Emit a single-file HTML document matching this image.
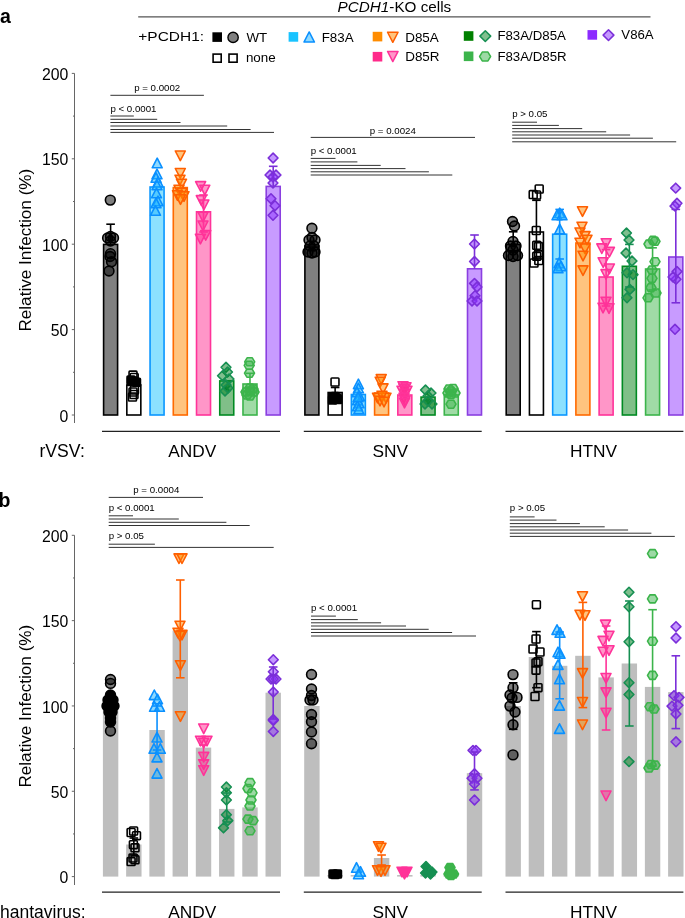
<!DOCTYPE html><html><head><meta charset="utf-8"><style>html,body{margin:0;padding:0;background:#fff;width:685px;height:918px;overflow:hidden}svg{display:block;font-family:"Liberation Sans", sans-serif;will-change:transform}</style></head><body><svg width="685" height="918" viewBox="0 0 685 918" font-family='"Liberation Sans", sans-serif'>
<rect width="685" height="918" fill="#fff"/>
<text x="0.1" y="22.8" font-size="19.5" text-anchor="start" font-weight="bold" font-style="normal" fill="#000" >a</text>
<text x="-1.5" y="506.5" font-size="19.5" text-anchor="start" font-weight="bold" font-style="normal" fill="#000" >b</text>
<text x="337.6" y="11.7" font-size="15.25"><tspan font-style="italic">PCDH1</tspan>-KO cells</text>
<line x1="138.2" y1="16.9" x2="650.5" y2="16.9" stroke="#555" stroke-width="1.4"/>
<text x="0" y="0" font-size="13.4" transform="translate(138.3,41.4) scale(1.155,1)">+PCDH1:</text>
<rect x="212.40" y="32.30" width="9.6" height="9.6" fill="#000"/>
<circle cx="233.10" cy="37.40" r="5.15" fill="#808080" stroke="#000" stroke-width="1.4"/>
<text x="246.55" y="41.7" font-size="13.3" text-anchor="start" font-weight="normal" font-style="normal" fill="#000" >WT</text>
<rect x="213.10" y="54.10" width="8.1" height="8.1" fill="#fff" stroke="#000" stroke-width="1.6"/>
<rect x="229.00" y="54.10" width="8.1" height="8.1" fill="#fff" stroke="#000" stroke-width="1.6"/>
<text x="245.9" y="62.3" font-size="13.4" text-anchor="start" font-weight="normal" font-style="normal" fill="#000" >none</text>
<rect x="288.60" y="32.10" width="9.6" height="9.6" fill="#19c3ff"/>
<polygon points="309.20,31.96 314.45,42.04 303.95,42.04" fill="rgba(30,180,255,0.5)" stroke="#0a90ff" stroke-width="1.5" stroke-linejoin="round"/>
<text x="321.7" y="41.7" font-size="13.35" text-anchor="start" font-weight="normal" font-style="normal" fill="#000" >F83A</text>
<rect x="372.70" y="31.80" width="9.6" height="9.6" fill="#ff8c00"/>
<polygon points="387.55,32.26 398.05,32.26 392.80,42.34" fill="rgba(255,140,0,0.5)" stroke="#ff5f00" stroke-width="1.5" stroke-linejoin="round"/>
<text x="405.2" y="41.7" font-size="13.45" text-anchor="start" font-weight="normal" font-style="normal" fill="#000" >D85A</text>
<rect x="372.70" y="51.90" width="9.6" height="9.6" fill="#ff2a8a"/>
<polygon points="387.55,51.46 398.05,51.46 392.80,61.54" fill="rgba(255,45,145,0.5)" stroke="#ff3399" stroke-width="1.5" stroke-linejoin="round"/>
<text x="405.2" y="61.0" font-size="13.45" text-anchor="start" font-weight="normal" font-style="normal" fill="#000" >D85R</text>
<rect x="463.80" y="31.20" width="9.6" height="9.6" fill="#008000"/>
<polygon points="485.30,30.71 490.69,36.10 485.30,41.49 479.91,36.10" fill="rgba(0,128,30,0.5)" stroke="#168f52" stroke-width="1.5" stroke-linejoin="round"/>
<text x="497.4" y="40.4" font-size="13.25" text-anchor="start" font-weight="normal" font-style="normal" fill="#000" >F83A/D85A</text>
<rect x="463.80" y="51.50" width="9.6" height="9.6" fill="#3cb44b"/>
<polygon points="479.60,56.50 482.24,52.10 487.96,52.10 490.60,56.50 487.96,60.90 482.24,60.90" fill="rgba(60,180,75,0.5)" stroke="#3cb44b" stroke-width="1.5" stroke-linejoin="round"/>
<text x="497.4" y="60.5" font-size="13.25" text-anchor="start" font-weight="normal" font-style="normal" fill="#000" >F83A/D85R</text>
<rect x="587.50" y="30.10" width="9.6" height="9.6" fill="#8c2bff"/>
<polygon points="608.50,29.71 613.89,35.10 608.50,40.49 603.11,35.10" fill="rgba(140,50,255,0.5)" stroke="#7b2fd9" stroke-width="1.5" stroke-linejoin="round"/>
<text x="621.35" y="39.0" font-size="13.2" text-anchor="start" font-weight="normal" font-style="normal" fill="#000" >V86A</text>
<line x1="74.5" y1="73.4" x2="74.5" y2="423" stroke="#666" stroke-width="1"/>
<line x1="71.8" y1="415.0" x2="74.5" y2="415.0" stroke="#666" stroke-width="1"/>
<text x="68.4" y="421.60" font-size="15.8" text-anchor="end" font-weight="normal" font-style="normal" fill="#000" >0</text>
<line x1="73" y1="372.3" x2="74.5" y2="372.3" stroke="#666" stroke-width="1"/>
<line x1="71.8" y1="329.6" x2="74.5" y2="329.6" stroke="#666" stroke-width="1"/>
<text x="68.4" y="336.20" font-size="15.8" text-anchor="end" font-weight="normal" font-style="normal" fill="#000" >50</text>
<line x1="73" y1="286.9" x2="74.5" y2="286.9" stroke="#666" stroke-width="1"/>
<line x1="71.8" y1="244.2" x2="74.5" y2="244.2" stroke="#666" stroke-width="1"/>
<text x="68.4" y="250.80" font-size="15.8" text-anchor="end" font-weight="normal" font-style="normal" fill="#000" >100</text>
<line x1="73" y1="201.49999999999997" x2="74.5" y2="201.49999999999997" stroke="#666" stroke-width="1"/>
<line x1="71.8" y1="158.79999999999995" x2="74.5" y2="158.79999999999995" stroke="#666" stroke-width="1"/>
<text x="68.4" y="165.40" font-size="15.8" text-anchor="end" font-weight="normal" font-style="normal" fill="#000" >150</text>
<line x1="73" y1="116.09999999999997" x2="74.5" y2="116.09999999999997" stroke="#666" stroke-width="1"/>
<line x1="71.8" y1="73.39999999999998" x2="74.5" y2="73.39999999999998" stroke="#666" stroke-width="1"/>
<text x="68.4" y="80.00" font-size="15.8" text-anchor="end" font-weight="normal" font-style="normal" fill="#000" >200</text>
<line x1="74.5" y1="535.3" x2="74.5" y2="885" stroke="#666" stroke-width="1"/>
<line x1="71.8" y1="876.6" x2="74.5" y2="876.6" stroke="#666" stroke-width="1"/>
<text x="68.4" y="883.20" font-size="15.8" text-anchor="end" font-weight="normal" font-style="normal" fill="#000" >0</text>
<line x1="73" y1="833.9375" x2="74.5" y2="833.9375" stroke="#666" stroke-width="1"/>
<line x1="71.8" y1="791.275" x2="74.5" y2="791.275" stroke="#666" stroke-width="1"/>
<text x="68.4" y="797.88" font-size="15.8" text-anchor="end" font-weight="normal" font-style="normal" fill="#000" >50</text>
<line x1="73" y1="748.6125" x2="74.5" y2="748.6125" stroke="#666" stroke-width="1"/>
<line x1="71.8" y1="705.95" x2="74.5" y2="705.95" stroke="#666" stroke-width="1"/>
<text x="68.4" y="712.55" font-size="15.8" text-anchor="end" font-weight="normal" font-style="normal" fill="#000" >100</text>
<line x1="73" y1="663.2874999999999" x2="74.5" y2="663.2874999999999" stroke="#666" stroke-width="1"/>
<line x1="71.8" y1="620.625" x2="74.5" y2="620.625" stroke="#666" stroke-width="1"/>
<text x="68.4" y="627.23" font-size="15.8" text-anchor="end" font-weight="normal" font-style="normal" fill="#000" >150</text>
<line x1="73" y1="577.9625" x2="74.5" y2="577.9625" stroke="#666" stroke-width="1"/>
<line x1="71.8" y1="535.3" x2="74.5" y2="535.3" stroke="#666" stroke-width="1"/>
<text x="68.4" y="541.90" font-size="15.8" text-anchor="end" font-weight="normal" font-style="normal" fill="#000" >200</text>
<text x="0" y="0" font-size="17.15" text-anchor="start" font-weight="normal" font-style="normal" fill="#000" transform="translate(30.5,331.6) rotate(-90)">Relative Infection (%)</text>
<text x="0" y="0" font-size="17.15" text-anchor="start" font-weight="normal" font-style="normal" fill="#000" transform="translate(30.5,787.6) rotate(-90)">Relative Infection (%)</text>
<text x="157.2" y="90.5" font-size="9.7" text-anchor="middle" font-weight="normal" font-style="normal" fill="#000" >p = 0.0002</text>
<line x1="110.4" y1="95.3" x2="203.9" y2="95.3" stroke="#333" stroke-width="1"/>
<text x="110.4" y="111.5" font-size="9.7" text-anchor="start" font-weight="normal" font-style="normal" fill="#000" >p &lt; 0.0001</text>
<line x1="110.4" y1="116" x2="133.8" y2="116" stroke="#333" stroke-width="1"/>
<line x1="110.4" y1="119.3" x2="157.2" y2="119.3" stroke="#333" stroke-width="1"/>
<line x1="110.4" y1="122.5" x2="180.5" y2="122.5" stroke="#333" stroke-width="1"/>
<line x1="110.4" y1="126" x2="227.2" y2="126" stroke="#333" stroke-width="1"/>
<line x1="110.4" y1="129.5" x2="250.6" y2="129.5" stroke="#333" stroke-width="1"/>
<line x1="110.4" y1="132.4" x2="274" y2="132.4" stroke="#333" stroke-width="1"/>
<text x="392.8" y="133.6" font-size="9.7" text-anchor="middle" font-weight="normal" font-style="normal" fill="#000" >p = 0.0024</text>
<line x1="310.7" y1="137.4" x2="475" y2="137.4" stroke="#333" stroke-width="1"/>
<text x="310.7" y="153.6" font-size="9.7" text-anchor="start" font-weight="normal" font-style="normal" fill="#000" >p &lt; 0.0001</text>
<line x1="310.7" y1="158.4" x2="335.5" y2="158.4" stroke="#333" stroke-width="1"/>
<line x1="310.7" y1="161.9" x2="357.4" y2="161.9" stroke="#333" stroke-width="1"/>
<line x1="310.7" y1="165.4" x2="380.7" y2="165.4" stroke="#333" stroke-width="1"/>
<line x1="310.7" y1="168.6" x2="405.5" y2="168.6" stroke="#333" stroke-width="1"/>
<line x1="310.7" y1="171.8" x2="428.9" y2="171.8" stroke="#333" stroke-width="1"/>
<line x1="310.7" y1="175" x2="452.3" y2="175" stroke="#333" stroke-width="1"/>
<text x="512.2" y="116.5" font-size="9.7" text-anchor="start" font-weight="normal" font-style="normal" fill="#000" >p &gt; 0.05</text>
<line x1="512.2" y1="122.2" x2="537" y2="122.2" stroke="#333" stroke-width="1"/>
<line x1="512.2" y1="125.4" x2="558.9" y2="125.4" stroke="#333" stroke-width="1"/>
<line x1="512.2" y1="128.6" x2="582.2" y2="128.6" stroke="#333" stroke-width="1"/>
<line x1="512.2" y1="131.8" x2="606.2" y2="131.8" stroke="#333" stroke-width="1"/>
<line x1="512.2" y1="135" x2="630.1" y2="135" stroke="#333" stroke-width="1"/>
<line x1="512.2" y1="138.2" x2="652.9" y2="138.2" stroke="#333" stroke-width="1"/>
<line x1="512.2" y1="141.8" x2="676.2" y2="141.8" stroke="#333" stroke-width="1"/>
<text x="156.3" y="493.0" font-size="9.7" text-anchor="middle" font-weight="normal" font-style="normal" fill="#000" >p = 0.0004</text>
<line x1="108.7" y1="497.4" x2="203" y2="497.4" stroke="#333" stroke-width="1"/>
<text x="108.7" y="511.0" font-size="9.7" text-anchor="start" font-weight="normal" font-style="normal" fill="#000" >p &lt; 0.0001</text>
<line x1="108.7" y1="515.8" x2="133" y2="515.8" stroke="#333" stroke-width="1"/>
<line x1="108.7" y1="519" x2="178.8" y2="519" stroke="#333" stroke-width="1"/>
<line x1="108.7" y1="522.3" x2="226.4" y2="522.3" stroke="#333" stroke-width="1"/>
<line x1="108.7" y1="525.5" x2="249.7" y2="525.5" stroke="#333" stroke-width="1"/>
<text x="108.7" y="539.1" font-size="9.7" text-anchor="start" font-weight="normal" font-style="normal" fill="#000" >p &gt; 0.05</text>
<line x1="108.7" y1="544.2" x2="154.9" y2="544.2" stroke="#333" stroke-width="1"/>
<line x1="108.7" y1="547.4" x2="273.7" y2="547.4" stroke="#333" stroke-width="1"/>
<text x="311" y="611.0" font-size="9.7" text-anchor="start" font-weight="normal" font-style="normal" fill="#000" >p &lt; 0.0001</text>
<line x1="311" y1="616.1" x2="335.9" y2="616.1" stroke="#333" stroke-width="1"/>
<line x1="311" y1="619.6" x2="357.8" y2="619.6" stroke="#333" stroke-width="1"/>
<line x1="311" y1="622.8" x2="381.1" y2="622.8" stroke="#333" stroke-width="1"/>
<line x1="311" y1="626" x2="406" y2="626" stroke="#333" stroke-width="1"/>
<line x1="311" y1="629.3" x2="428.7" y2="629.3" stroke="#333" stroke-width="1"/>
<line x1="311" y1="632.5" x2="452.1" y2="632.5" stroke="#333" stroke-width="1"/>
<line x1="311" y1="636" x2="476" y2="636" stroke="#333" stroke-width="1"/>
<text x="509.8" y="510.6" font-size="9.7" text-anchor="start" font-weight="normal" font-style="normal" fill="#000" >p &gt; 0.05</text>
<line x1="509.8" y1="516.9" x2="534.6" y2="516.9" stroke="#333" stroke-width="1"/>
<line x1="509.8" y1="520.1" x2="556.5" y2="520.1" stroke="#333" stroke-width="1"/>
<line x1="509.8" y1="523.6" x2="579.9" y2="523.6" stroke="#333" stroke-width="1"/>
<line x1="509.8" y1="526.8" x2="604.7" y2="526.8" stroke="#333" stroke-width="1"/>
<line x1="509.8" y1="530" x2="628.1" y2="530" stroke="#333" stroke-width="1"/>
<line x1="509.8" y1="533.2" x2="651.4" y2="533.2" stroke="#333" stroke-width="1"/>
<line x1="509.8" y1="536.4" x2="674.8" y2="536.4" stroke="#333" stroke-width="1"/>
<rect x="103.60" y="244.40" width="14.0" height="170.60" fill="#808080" stroke="#000000" stroke-width="1.6"/>
<circle cx="110.30" cy="200.10" r="4.90" fill="rgba(0,0,0,0.5)" stroke="#000000" stroke-width="1.6"/>
<circle cx="107.60" cy="238.00" r="4.90" fill="rgba(0,0,0,0.5)" stroke="#000000" stroke-width="1.6"/>
<circle cx="113.50" cy="238.00" r="4.90" fill="rgba(0,0,0,0.5)" stroke="#000000" stroke-width="1.6"/>
<circle cx="110.50" cy="236.50" r="4.90" fill="rgba(0,0,0,0.5)" stroke="#000000" stroke-width="1.6"/>
<circle cx="110.50" cy="241.00" r="4.90" fill="rgba(0,0,0,0.5)" stroke="#000000" stroke-width="1.6"/>
<circle cx="110.50" cy="253.70" r="4.90" fill="rgba(0,0,0,0.5)" stroke="#000000" stroke-width="1.6"/>
<circle cx="110.00" cy="256.50" r="4.90" fill="rgba(0,0,0,0.5)" stroke="#000000" stroke-width="1.6"/>
<circle cx="111.50" cy="261.80" r="4.90" fill="rgba(0,0,0,0.5)" stroke="#000000" stroke-width="1.6"/>
<circle cx="109.00" cy="271.00" r="4.90" fill="rgba(0,0,0,0.5)" stroke="#000000" stroke-width="1.6"/>
<line x1="110.6" y1="224.2" x2="110.6" y2="244.4" stroke="#000000" stroke-width="1.6"/>
<line x1="106.3" y1="224.2" x2="114.89999999999999" y2="224.2" stroke="#000000" stroke-width="1.6"/>
<rect x="126.83" y="385.00" width="14.0" height="30.00" fill="#ffffff" stroke="#000000" stroke-width="1.6"/>
<rect x="129.05" y="371.15" width="7.90" height="7.90" rx="0.8" fill="none" stroke="#000000" stroke-width="1.6"/>
<rect x="130.25" y="373.45" width="7.90" height="7.90" rx="0.8" fill="none" stroke="#000000" stroke-width="1.6"/>
<rect x="127.05" y="376.05" width="7.90" height="7.90" rx="0.8" fill="#000" stroke="#000000" stroke-width="1.6"/>
<rect x="132.55" y="378.25" width="7.90" height="7.90" rx="0.8" fill="#000" stroke="#000000" stroke-width="1.6"/>
<rect x="129.55" y="377.05" width="7.90" height="7.90" rx="0.8" fill="#000" stroke="#000000" stroke-width="1.6"/>
<rect x="127.55" y="377.55" width="7.90" height="7.90" rx="0.8" fill="#000" stroke="#000000" stroke-width="1.6"/>
<rect x="130.55" y="386.05" width="7.90" height="7.90" rx="0.8" fill="none" stroke="#000000" stroke-width="1.6"/>
<rect x="129.05" y="388.05" width="7.90" height="7.90" rx="0.8" fill="none" stroke="#000000" stroke-width="1.6"/>
<rect x="130.05" y="390.55" width="7.90" height="7.90" rx="0.8" fill="none" stroke="#000000" stroke-width="1.6"/>
<rect x="128.55" y="393.05" width="7.90" height="7.90" rx="0.8" fill="none" stroke="#000000" stroke-width="1.6"/>
<rect x="150.06" y="187.00" width="14.0" height="228.00" fill="#8ce1ff" stroke="#0a96ff" stroke-width="1.6"/>
<polygon points="157.20,158.20 162.20,167.80 152.20,167.80" fill="rgba(30,180,255,0.5)" stroke="#0a90ff" stroke-width="1.6" stroke-linejoin="round"/>
<polygon points="157.00,169.20 162.00,178.80 152.00,178.80" fill="rgba(30,180,255,0.5)" stroke="#0a90ff" stroke-width="1.6" stroke-linejoin="round"/>
<polygon points="156.00,172.70 161.00,182.30 151.00,182.30" fill="rgba(30,180,255,0.5)" stroke="#0a90ff" stroke-width="1.6" stroke-linejoin="round"/>
<polygon points="158.00,177.20 163.00,186.80 153.00,186.80" fill="rgba(30,180,255,0.5)" stroke="#0a90ff" stroke-width="1.6" stroke-linejoin="round"/>
<polygon points="157.00,180.20 162.00,189.80 152.00,189.80" fill="rgba(30,180,255,0.5)" stroke="#0a90ff" stroke-width="1.6" stroke-linejoin="round"/>
<polygon points="156.50,188.20 161.50,197.80 151.50,197.80" fill="rgba(30,180,255,0.5)" stroke="#0a90ff" stroke-width="1.6" stroke-linejoin="round"/>
<polygon points="158.00,196.20 163.00,205.80 153.00,205.80" fill="rgba(30,180,255,0.5)" stroke="#0a90ff" stroke-width="1.6" stroke-linejoin="round"/>
<polygon points="156.00,198.20 161.00,207.80 151.00,207.80" fill="rgba(30,180,255,0.5)" stroke="#0a90ff" stroke-width="1.6" stroke-linejoin="round"/>
<polygon points="155.50,205.70 160.50,215.30 150.50,215.30" fill="rgba(30,180,255,0.5)" stroke="#0a90ff" stroke-width="1.6" stroke-linejoin="round"/>
<rect x="173.29" y="187.60" width="14.0" height="227.40" fill="#ffc47f" stroke="#ff6a00" stroke-width="1.6"/>
<polygon points="175.30,151.00 185.30,151.00 180.30,160.60" fill="rgba(255,140,0,0.5)" stroke="#ff5f00" stroke-width="1.6" stroke-linejoin="round"/>
<polygon points="175.30,168.50 185.30,168.50 180.30,178.10" fill="rgba(255,140,0,0.5)" stroke="#ff5f00" stroke-width="1.6" stroke-linejoin="round"/>
<polygon points="175.00,175.20 185.00,175.20 180.00,184.80" fill="rgba(255,140,0,0.5)" stroke="#ff5f00" stroke-width="1.6" stroke-linejoin="round"/>
<polygon points="176.50,179.20 186.50,179.20 181.50,188.80" fill="rgba(255,140,0,0.5)" stroke="#ff5f00" stroke-width="1.6" stroke-linejoin="round"/>
<polygon points="174.00,185.20 184.00,185.20 179.00,194.80" fill="rgba(255,140,0,0.5)" stroke="#ff5f00" stroke-width="1.6" stroke-linejoin="round"/>
<polygon points="177.00,188.20 187.00,188.20 182.00,197.80" fill="rgba(255,140,0,0.5)" stroke="#ff5f00" stroke-width="1.6" stroke-linejoin="round"/>
<polygon points="172.50,190.70 182.50,190.70 177.50,200.30" fill="rgba(255,140,0,0.5)" stroke="#ff5f00" stroke-width="1.6" stroke-linejoin="round"/>
<polygon points="179.00,191.70 189.00,191.70 184.00,201.30" fill="rgba(255,140,0,0.5)" stroke="#ff5f00" stroke-width="1.6" stroke-linejoin="round"/>
<polygon points="175.50,194.70 185.50,194.70 180.50,204.30" fill="rgba(255,140,0,0.5)" stroke="#ff5f00" stroke-width="1.6" stroke-linejoin="round"/>
<rect x="196.52" y="211.80" width="14.0" height="203.20" fill="#ff96c8" stroke="#ff3399" stroke-width="1.6"/>
<polygon points="195.60,181.60 205.60,181.60 200.60,191.20" fill="rgba(255,45,145,0.5)" stroke="#ff3399" stroke-width="1.6" stroke-linejoin="round"/>
<polygon points="199.80,185.20 209.80,185.20 204.80,194.80" fill="rgba(255,45,145,0.5)" stroke="#ff3399" stroke-width="1.6" stroke-linejoin="round"/>
<polygon points="196.30,195.60 206.30,195.60 201.30,205.20" fill="rgba(255,45,145,0.5)" stroke="#ff3399" stroke-width="1.6" stroke-linejoin="round"/>
<polygon points="198.90,200.00 208.90,200.00 203.90,209.60" fill="rgba(255,45,145,0.5)" stroke="#ff3399" stroke-width="1.6" stroke-linejoin="round"/>
<polygon points="198.00,212.20 208.00,212.20 203.00,221.80" fill="rgba(255,45,145,0.5)" stroke="#ff3399" stroke-width="1.6" stroke-linejoin="round"/>
<polygon points="198.00,221.00 208.00,221.00 203.00,230.60" fill="rgba(255,45,145,0.5)" stroke="#ff3399" stroke-width="1.6" stroke-linejoin="round"/>
<polygon points="200.70,230.60 210.70,230.60 205.70,240.20" fill="rgba(255,45,145,0.5)" stroke="#ff3399" stroke-width="1.6" stroke-linejoin="round"/>
<polygon points="195.40,234.20 205.40,234.20 200.40,243.80" fill="rgba(255,45,145,0.5)" stroke="#ff3399" stroke-width="1.6" stroke-linejoin="round"/>
<line x1="203.51999999999998" y1="195" x2="203.51999999999998" y2="232" stroke="#ff3399" stroke-width="1.6"/>
<line x1="199.21999999999997" y1="195" x2="207.82" y2="195" stroke="#ff3399" stroke-width="1.6"/>
<line x1="199.21999999999997" y1="232" x2="207.82" y2="232" stroke="#ff3399" stroke-width="1.6"/>
<rect x="219.75" y="380.90" width="14.0" height="34.10" fill="#80bf88" stroke="#008a22" stroke-width="1.6"/>
<polygon points="226.00,362.40 230.90,367.30 226.00,372.20 221.10,367.30" fill="rgba(0,128,30,0.5)" stroke="#168f52" stroke-width="1.6" stroke-linejoin="round"/>
<polygon points="227.50,367.10 232.40,372.00 227.50,376.90 222.60,372.00" fill="rgba(0,128,30,0.5)" stroke="#168f52" stroke-width="1.6" stroke-linejoin="round"/>
<polygon points="222.50,370.80 227.40,375.70 222.50,380.60 217.60,375.70" fill="rgba(0,128,30,0.5)" stroke="#168f52" stroke-width="1.6" stroke-linejoin="round"/>
<polygon points="229.00,374.10 233.90,379.00 229.00,383.90 224.10,379.00" fill="rgba(0,128,30,0.5)" stroke="#168f52" stroke-width="1.6" stroke-linejoin="round"/>
<polygon points="226.00,380.10 230.90,385.00 226.00,389.90 221.10,385.00" fill="rgba(0,128,30,0.5)" stroke="#168f52" stroke-width="1.6" stroke-linejoin="round"/>
<polygon points="225.00,386.10 229.90,391.00 225.00,395.90 220.10,391.00" fill="rgba(0,128,30,0.5)" stroke="#168f52" stroke-width="1.6" stroke-linejoin="round"/>
<polygon points="228.00,383.10 232.90,388.00 228.00,392.90 223.10,388.00" fill="rgba(0,128,30,0.5)" stroke="#168f52" stroke-width="1.6" stroke-linejoin="round"/>
<rect x="242.98" y="384.00" width="14.0" height="31.00" fill="#a0dba6" stroke="#3cb44b" stroke-width="1.6"/>
<polygon points="244.70,361.80 247.10,357.80 252.30,357.80 254.70,361.80 252.30,365.80 247.10,365.80" fill="rgba(60,180,75,0.5)" stroke="#3cb44b" stroke-width="1.6" stroke-linejoin="round"/>
<polygon points="244.20,365.30 246.60,361.30 251.80,361.30 254.20,365.30 251.80,369.30 246.60,369.30" fill="rgba(60,180,75,0.5)" stroke="#3cb44b" stroke-width="1.6" stroke-linejoin="round"/>
<polygon points="244.50,373.20 246.90,369.20 252.10,369.20 254.50,373.20 252.10,377.20 246.90,377.20" fill="rgba(60,180,75,0.5)" stroke="#3cb44b" stroke-width="1.6" stroke-linejoin="round"/>
<polygon points="241.00,392.00 243.40,388.00 248.60,388.00 251.00,392.00 248.60,396.00 243.40,396.00" fill="rgba(60,180,75,0.5)" stroke="#3cb44b" stroke-width="1.6" stroke-linejoin="round"/>
<polygon points="249.00,392.00 251.40,388.00 256.60,388.00 259.00,392.00 256.60,396.00 251.40,396.00" fill="rgba(60,180,75,0.5)" stroke="#3cb44b" stroke-width="1.6" stroke-linejoin="round"/>
<polygon points="245.00,388.00 247.40,384.00 252.60,384.00 255.00,388.00 252.60,392.00 247.40,392.00" fill="rgba(60,180,75,0.5)" stroke="#3cb44b" stroke-width="1.6" stroke-linejoin="round"/>
<polygon points="245.00,396.00 247.40,392.00 252.60,392.00 255.00,396.00 252.60,400.00 247.40,400.00" fill="rgba(60,180,75,0.5)" stroke="#3cb44b" stroke-width="1.6" stroke-linejoin="round"/>
<polygon points="242.00,395.00 244.40,391.00 249.60,391.00 252.00,395.00 249.60,399.00 244.40,399.00" fill="rgba(60,180,75,0.5)" stroke="#3cb44b" stroke-width="1.6" stroke-linejoin="round"/>
<polygon points="248.00,389.00 250.40,385.00 255.60,385.00 258.00,389.00 255.60,393.00 250.40,393.00" fill="rgba(60,180,75,0.5)" stroke="#3cb44b" stroke-width="1.6" stroke-linejoin="round"/>
<polygon points="245.00,391.00 247.40,387.00 252.60,387.00 255.00,391.00 252.60,395.00 247.40,395.00" fill="rgba(60,180,75,0.5)" stroke="#3cb44b" stroke-width="1.6" stroke-linejoin="round"/>
<line x1="249.98" y1="373.3" x2="249.98" y2="384.0" stroke="#3cb44b" stroke-width="1.6"/>
<line x1="245.67999999999998" y1="373.3" x2="254.28" y2="373.3" stroke="#3cb44b" stroke-width="1.6"/>
<rect x="266.21" y="186.40" width="14.0" height="228.60" fill="#c89bff" stroke="#8a3fe0" stroke-width="1.6"/>
<polygon points="273.10,153.10 278.00,158.00 273.10,162.90 268.20,158.00" fill="rgba(140,50,255,0.5)" stroke="#7b2fd9" stroke-width="1.6" stroke-linejoin="round"/>
<polygon points="270.00,170.10 274.90,175.00 270.00,179.90 265.10,175.00" fill="rgba(140,50,255,0.5)" stroke="#7b2fd9" stroke-width="1.6" stroke-linejoin="round"/>
<polygon points="276.00,170.10 280.90,175.00 276.00,179.90 271.10,175.00" fill="rgba(140,50,255,0.5)" stroke="#7b2fd9" stroke-width="1.6" stroke-linejoin="round"/>
<polygon points="273.00,172.10 277.90,177.00 273.00,181.90 268.10,177.00" fill="rgba(140,50,255,0.5)" stroke="#7b2fd9" stroke-width="1.6" stroke-linejoin="round"/>
<polygon points="273.00,178.10 277.90,183.00 273.00,187.90 268.10,183.00" fill="rgba(140,50,255,0.5)" stroke="#7b2fd9" stroke-width="1.6" stroke-linejoin="round"/>
<polygon points="271.00,193.80 275.90,198.70 271.00,203.60 266.10,198.70" fill="rgba(140,50,255,0.5)" stroke="#7b2fd9" stroke-width="1.6" stroke-linejoin="round"/>
<polygon points="275.00,200.80 279.90,205.70 275.00,210.60 270.10,205.70" fill="rgba(140,50,255,0.5)" stroke="#7b2fd9" stroke-width="1.6" stroke-linejoin="round"/>
<polygon points="273.00,210.40 277.90,215.30 273.00,220.20 268.10,215.30" fill="rgba(140,50,255,0.5)" stroke="#7b2fd9" stroke-width="1.6" stroke-linejoin="round"/>
<line x1="273.21000000000004" y1="166.3" x2="273.21000000000004" y2="186.4" stroke="#7b2fd9" stroke-width="1.6"/>
<line x1="268.91" y1="166.3" x2="277.51000000000005" y2="166.3" stroke="#7b2fd9" stroke-width="1.6"/>
<rect x="304.90" y="246.00" width="14.0" height="169.00" fill="#808080" stroke="#000000" stroke-width="1.6"/>
<circle cx="311.90" cy="228.30" r="4.90" fill="rgba(0,0,0,0.5)" stroke="#000000" stroke-width="1.6"/>
<circle cx="309.00" cy="240.00" r="4.90" fill="rgba(0,0,0,0.5)" stroke="#000000" stroke-width="1.6"/>
<circle cx="315.00" cy="240.00" r="4.90" fill="rgba(0,0,0,0.5)" stroke="#000000" stroke-width="1.6"/>
<circle cx="312.00" cy="237.50" r="4.90" fill="rgba(0,0,0,0.5)" stroke="#000000" stroke-width="1.6"/>
<circle cx="310.00" cy="246.00" r="4.90" fill="rgba(0,0,0,0.5)" stroke="#000000" stroke-width="1.6"/>
<circle cx="314.00" cy="246.00" r="4.90" fill="rgba(0,0,0,0.5)" stroke="#000000" stroke-width="1.6"/>
<circle cx="308.00" cy="252.00" r="4.90" fill="rgba(0,0,0,0.5)" stroke="#000000" stroke-width="1.6"/>
<circle cx="315.00" cy="252.00" r="4.90" fill="rgba(0,0,0,0.5)" stroke="#000000" stroke-width="1.6"/>
<circle cx="312.00" cy="253.00" r="4.90" fill="rgba(0,0,0,0.5)" stroke="#000000" stroke-width="1.6"/>
<rect x="328.13" y="392.50" width="14.0" height="22.50" fill="#ffffff" stroke="#000000" stroke-width="1.6"/>
<rect x="331.05" y="378.05" width="7.90" height="7.90" rx="0.8" fill="none" stroke="#000000" stroke-width="1.6"/>
<rect x="329.05" y="393.05" width="7.90" height="7.90" rx="0.8" fill="#000" stroke="#000000" stroke-width="1.6"/>
<rect x="333.05" y="394.05" width="7.90" height="7.90" rx="0.8" fill="#000" stroke="#000000" stroke-width="1.6"/>
<rect x="331.05" y="395.05" width="7.90" height="7.90" rx="0.8" fill="#000" stroke="#000000" stroke-width="1.6"/>
<rect x="328.55" y="396.05" width="7.90" height="7.90" rx="0.8" fill="#000" stroke="#000000" stroke-width="1.6"/>
<rect x="333.55" y="395.55" width="7.90" height="7.90" rx="0.8" fill="#000" stroke="#000000" stroke-width="1.6"/>
<rect x="331.05" y="392.55" width="7.90" height="7.90" rx="0.8" fill="#000" stroke="#000000" stroke-width="1.6"/>
<line x1="335.13" y1="387.5" x2="335.13" y2="392.5" stroke="#000000" stroke-width="1.6"/>
<line x1="330.83" y1="387.5" x2="339.43" y2="387.5" stroke="#000000" stroke-width="1.6"/>
<rect x="351.36" y="394.50" width="14.0" height="20.50" fill="#8ce1ff" stroke="#0a96ff" stroke-width="1.6"/>
<polygon points="358.40,379.20 363.40,388.80 353.40,388.80" fill="rgba(30,180,255,0.5)" stroke="#0a90ff" stroke-width="1.6" stroke-linejoin="round"/>
<polygon points="358.40,383.20 363.40,392.80 353.40,392.80" fill="rgba(30,180,255,0.5)" stroke="#0a90ff" stroke-width="1.6" stroke-linejoin="round"/>
<polygon points="357.00,387.20 362.00,396.80 352.00,396.80" fill="rgba(30,180,255,0.5)" stroke="#0a90ff" stroke-width="1.6" stroke-linejoin="round"/>
<polygon points="359.50,391.20 364.50,400.80 354.50,400.80" fill="rgba(30,180,255,0.5)" stroke="#0a90ff" stroke-width="1.6" stroke-linejoin="round"/>
<polygon points="357.50,395.20 362.50,404.80 352.50,404.80" fill="rgba(30,180,255,0.5)" stroke="#0a90ff" stroke-width="1.6" stroke-linejoin="round"/>
<polygon points="359.00,398.20 364.00,407.80 354.00,407.80" fill="rgba(30,180,255,0.5)" stroke="#0a90ff" stroke-width="1.6" stroke-linejoin="round"/>
<polygon points="357.50,401.20 362.50,410.80 352.50,410.80" fill="rgba(30,180,255,0.5)" stroke="#0a90ff" stroke-width="1.6" stroke-linejoin="round"/>
<polygon points="358.80,404.20 363.80,413.80 353.80,413.80" fill="rgba(30,180,255,0.5)" stroke="#0a90ff" stroke-width="1.6" stroke-linejoin="round"/>
<polygon points="358.00,392.20 363.00,401.80 353.00,401.80" fill="rgba(30,180,255,0.5)" stroke="#0a90ff" stroke-width="1.6" stroke-linejoin="round"/>
<rect x="374.59" y="393.00" width="14.0" height="22.00" fill="#ffc47f" stroke="#ff6a00" stroke-width="1.6"/>
<polygon points="376.20,374.60 386.20,374.60 381.20,384.20" fill="rgba(255,140,0,0.5)" stroke="#ff5f00" stroke-width="1.6" stroke-linejoin="round"/>
<polygon points="375.20,377.20 385.20,377.20 380.20,386.80" fill="rgba(255,140,0,0.5)" stroke="#ff5f00" stroke-width="1.6" stroke-linejoin="round"/>
<polygon points="378.00,383.90 388.00,383.90 383.00,393.50" fill="rgba(255,140,0,0.5)" stroke="#ff5f00" stroke-width="1.6" stroke-linejoin="round"/>
<polygon points="372.50,393.20 382.50,393.20 377.50,402.80" fill="rgba(255,140,0,0.5)" stroke="#ff5f00" stroke-width="1.6" stroke-linejoin="round"/>
<polygon points="381.00,393.20 391.00,393.20 386.00,402.80" fill="rgba(255,140,0,0.5)" stroke="#ff5f00" stroke-width="1.6" stroke-linejoin="round"/>
<polygon points="377.00,391.20 387.00,391.20 382.00,400.80" fill="rgba(255,140,0,0.5)" stroke="#ff5f00" stroke-width="1.6" stroke-linejoin="round"/>
<polygon points="375.00,396.20 385.00,396.20 380.00,405.80" fill="rgba(255,140,0,0.5)" stroke="#ff5f00" stroke-width="1.6" stroke-linejoin="round"/>
<polygon points="379.00,397.20 389.00,397.20 384.00,406.80" fill="rgba(255,140,0,0.5)" stroke="#ff5f00" stroke-width="1.6" stroke-linejoin="round"/>
<rect x="397.82" y="395.00" width="14.0" height="20.00" fill="#ff96c8" stroke="#ff3399" stroke-width="1.6"/>
<polygon points="398.00,381.70 408.00,381.70 403.00,391.30" fill="rgba(255,45,145,0.5)" stroke="#ff3399" stroke-width="1.6" stroke-linejoin="round"/>
<polygon points="401.00,382.70 411.00,382.70 406.00,392.30" fill="rgba(255,45,145,0.5)" stroke="#ff3399" stroke-width="1.6" stroke-linejoin="round"/>
<polygon points="399.00,384.20 409.00,384.20 404.00,393.80" fill="rgba(255,45,145,0.5)" stroke="#ff3399" stroke-width="1.6" stroke-linejoin="round"/>
<polygon points="397.00,386.20 407.00,386.20 402.00,395.80" fill="rgba(255,45,145,0.5)" stroke="#ff3399" stroke-width="1.6" stroke-linejoin="round"/>
<polygon points="402.00,386.20 412.00,386.20 407.00,395.80" fill="rgba(255,45,145,0.5)" stroke="#ff3399" stroke-width="1.6" stroke-linejoin="round"/>
<polygon points="399.80,389.20 409.80,389.20 404.80,398.80" fill="rgba(255,45,145,0.5)" stroke="#ff3399" stroke-width="1.6" stroke-linejoin="round"/>
<polygon points="399.00,393.20 409.00,393.20 404.00,402.80" fill="rgba(255,45,145,0.5)" stroke="#ff3399" stroke-width="1.6" stroke-linejoin="round"/>
<polygon points="400.00,396.20 410.00,396.20 405.00,405.80" fill="rgba(255,45,145,0.5)" stroke="#ff3399" stroke-width="1.6" stroke-linejoin="round"/>
<polygon points="399.50,398.20 409.50,398.20 404.50,407.80" fill="rgba(255,45,145,0.5)" stroke="#ff3399" stroke-width="1.6" stroke-linejoin="round"/>
<rect x="421.05" y="397.10" width="14.0" height="17.90" fill="#80bf88" stroke="#008a22" stroke-width="1.6"/>
<polygon points="425.50,385.10 430.40,390.00 425.50,394.90 420.60,390.00" fill="rgba(0,128,30,0.5)" stroke="#168f52" stroke-width="1.6" stroke-linejoin="round"/>
<polygon points="431.00,388.10 435.90,393.00 431.00,397.90 426.10,393.00" fill="rgba(0,128,30,0.5)" stroke="#168f52" stroke-width="1.6" stroke-linejoin="round"/>
<polygon points="428.00,391.10 432.90,396.00 428.00,400.90 423.10,396.00" fill="rgba(0,128,30,0.5)" stroke="#168f52" stroke-width="1.6" stroke-linejoin="round"/>
<polygon points="425.00,399.10 429.90,404.00 425.00,408.90 420.10,404.00" fill="rgba(0,128,30,0.5)" stroke="#168f52" stroke-width="1.6" stroke-linejoin="round"/>
<polygon points="432.00,399.10 436.90,404.00 432.00,408.90 427.10,404.00" fill="rgba(0,128,30,0.5)" stroke="#168f52" stroke-width="1.6" stroke-linejoin="round"/>
<polygon points="428.00,396.10 432.90,401.00 428.00,405.90 423.10,401.00" fill="rgba(0,128,30,0.5)" stroke="#168f52" stroke-width="1.6" stroke-linejoin="round"/>
<rect x="444.28" y="395.00" width="14.0" height="20.00" fill="#a0dba6" stroke="#3cb44b" stroke-width="1.6"/>
<polygon points="444.00,389.00 446.40,385.00 451.60,385.00 454.00,389.00 451.60,393.00 446.40,393.00" fill="rgba(60,180,75,0.5)" stroke="#3cb44b" stroke-width="1.6" stroke-linejoin="round"/>
<polygon points="448.00,388.50 450.40,384.50 455.60,384.50 458.00,388.50 455.60,392.50 450.40,392.50" fill="rgba(60,180,75,0.5)" stroke="#3cb44b" stroke-width="1.6" stroke-linejoin="round"/>
<polygon points="446.00,391.00 448.40,387.00 453.60,387.00 456.00,391.00 453.60,395.00 448.40,395.00" fill="rgba(60,180,75,0.5)" stroke="#3cb44b" stroke-width="1.6" stroke-linejoin="round"/>
<polygon points="443.00,393.00 445.40,389.00 450.60,389.00 453.00,393.00 450.60,397.00 445.40,397.00" fill="rgba(60,180,75,0.5)" stroke="#3cb44b" stroke-width="1.6" stroke-linejoin="round"/>
<polygon points="450.00,393.00 452.40,389.00 457.60,389.00 460.00,393.00 457.60,397.00 452.40,397.00" fill="rgba(60,180,75,0.5)" stroke="#3cb44b" stroke-width="1.6" stroke-linejoin="round"/>
<polygon points="446.00,394.50 448.40,390.50 453.60,390.50 456.00,394.50 453.60,398.50 448.40,398.50" fill="rgba(60,180,75,0.5)" stroke="#3cb44b" stroke-width="1.6" stroke-linejoin="round"/>
<polygon points="446.00,404.20 448.40,400.20 453.60,400.20 456.00,404.20 453.60,408.20 448.40,408.20" fill="rgba(60,180,75,0.5)" stroke="#3cb44b" stroke-width="1.6" stroke-linejoin="round"/>
<rect x="467.51" y="268.80" width="14.0" height="146.20" fill="#c89bff" stroke="#8a3fe0" stroke-width="1.6"/>
<polygon points="474.50,239.10 479.40,244.00 474.50,248.90 469.60,244.00" fill="rgba(140,50,255,0.5)" stroke="#7b2fd9" stroke-width="1.6" stroke-linejoin="round"/>
<polygon points="474.50,256.60 479.40,261.50 474.50,266.40 469.60,261.50" fill="rgba(140,50,255,0.5)" stroke="#7b2fd9" stroke-width="1.6" stroke-linejoin="round"/>
<polygon points="474.50,278.50 479.40,283.40 474.50,288.30 469.60,283.40" fill="rgba(140,50,255,0.5)" stroke="#7b2fd9" stroke-width="1.6" stroke-linejoin="round"/>
<polygon points="477.00,282.10 481.90,287.00 477.00,291.90 472.10,287.00" fill="rgba(140,50,255,0.5)" stroke="#7b2fd9" stroke-width="1.6" stroke-linejoin="round"/>
<polygon points="475.00,290.80 479.90,295.70 475.00,300.60 470.10,295.70" fill="rgba(140,50,255,0.5)" stroke="#7b2fd9" stroke-width="1.6" stroke-linejoin="round"/>
<polygon points="472.00,296.10 476.90,301.00 472.00,305.90 467.10,301.00" fill="rgba(140,50,255,0.5)" stroke="#7b2fd9" stroke-width="1.6" stroke-linejoin="round"/>
<polygon points="477.00,296.10 481.90,301.00 477.00,305.90 472.10,301.00" fill="rgba(140,50,255,0.5)" stroke="#7b2fd9" stroke-width="1.6" stroke-linejoin="round"/>
<line x1="474.51" y1="235.0" x2="474.51" y2="268.8" stroke="#7b2fd9" stroke-width="1.6"/>
<line x1="470.21" y1="235.0" x2="478.81" y2="235.0" stroke="#7b2fd9" stroke-width="1.6"/>
<rect x="506.20" y="244.50" width="14.0" height="170.50" fill="#808080" stroke="#000000" stroke-width="1.6"/>
<circle cx="512.50" cy="221.50" r="4.90" fill="rgba(0,0,0,0.5)" stroke="#000000" stroke-width="1.6"/>
<circle cx="514.50" cy="226.00" r="4.90" fill="rgba(0,0,0,0.5)" stroke="#000000" stroke-width="1.6"/>
<circle cx="513.00" cy="241.50" r="4.90" fill="rgba(0,0,0,0.5)" stroke="#000000" stroke-width="1.6"/>
<circle cx="510.50" cy="246.00" r="4.90" fill="rgba(0,0,0,0.5)" stroke="#000000" stroke-width="1.6"/>
<circle cx="516.00" cy="246.00" r="4.90" fill="rgba(0,0,0,0.5)" stroke="#000000" stroke-width="1.6"/>
<circle cx="513.00" cy="250.00" r="4.90" fill="rgba(0,0,0,0.5)" stroke="#000000" stroke-width="1.6"/>
<circle cx="508.50" cy="255.50" r="4.90" fill="rgba(0,0,0,0.5)" stroke="#000000" stroke-width="1.6"/>
<circle cx="517.50" cy="255.50" r="4.90" fill="rgba(0,0,0,0.5)" stroke="#000000" stroke-width="1.6"/>
<circle cx="513.00" cy="256.50" r="4.90" fill="rgba(0,0,0,0.5)" stroke="#000000" stroke-width="1.6"/>
<line x1="513.2" y1="231.8" x2="513.2" y2="244.5" stroke="#000000" stroke-width="1.6"/>
<line x1="508.90000000000003" y1="231.8" x2="517.5" y2="231.8" stroke="#000000" stroke-width="1.6"/>
<rect x="529.43" y="232.00" width="14.0" height="183.00" fill="#ffffff" stroke="#000000" stroke-width="1.6"/>
<rect x="535.25" y="185.05" width="7.90" height="7.90" rx="0.8" fill="none" stroke="#000000" stroke-width="1.6"/>
<rect x="529.25" y="190.65" width="7.90" height="7.90" rx="0.8" fill="none" stroke="#000000" stroke-width="1.6"/>
<rect x="532.65" y="191.05" width="7.90" height="7.90" rx="0.8" fill="none" stroke="#000000" stroke-width="1.6"/>
<rect x="532.35" y="226.55" width="7.90" height="7.90" rx="0.8" fill="none" stroke="#000000" stroke-width="1.6"/>
<rect x="532.75" y="241.35" width="7.90" height="7.90" rx="0.8" fill="none" stroke="#000000" stroke-width="1.6"/>
<rect x="534.55" y="242.65" width="7.90" height="7.90" rx="0.8" fill="none" stroke="#000000" stroke-width="1.6"/>
<rect x="532.75" y="252.35" width="7.90" height="7.90" rx="0.8" fill="none" stroke="#000000" stroke-width="1.6"/>
<rect x="534.55" y="251.05" width="7.90" height="7.90" rx="0.8" fill="none" stroke="#000000" stroke-width="1.6"/>
<rect x="530.05" y="259.05" width="7.90" height="7.90" rx="0.8" fill="none" stroke="#000000" stroke-width="1.6"/>
<rect x="534.85" y="256.65" width="7.90" height="7.90" rx="0.8" fill="none" stroke="#000000" stroke-width="1.6"/>
<line x1="536.4300000000001" y1="200.3" x2="536.4300000000001" y2="258" stroke="#000000" stroke-width="1.6"/>
<line x1="532.1300000000001" y1="200.3" x2="540.73" y2="200.3" stroke="#000000" stroke-width="1.6"/>
<line x1="532.1300000000001" y1="258" x2="540.73" y2="258" stroke="#000000" stroke-width="1.6"/>
<rect x="552.66" y="234.20" width="14.0" height="180.80" fill="#8ce1ff" stroke="#0a96ff" stroke-width="1.6"/>
<polygon points="559.70,208.20 564.70,217.80 554.70,217.80" fill="rgba(30,180,255,0.5)" stroke="#0a90ff" stroke-width="1.6" stroke-linejoin="round"/>
<polygon points="557.00,210.20 562.00,219.80 552.00,219.80" fill="rgba(30,180,255,0.5)" stroke="#0a90ff" stroke-width="1.6" stroke-linejoin="round"/>
<polygon points="562.00,210.20 567.00,219.80 557.00,219.80" fill="rgba(30,180,255,0.5)" stroke="#0a90ff" stroke-width="1.6" stroke-linejoin="round"/>
<polygon points="559.70,224.20 564.70,233.80 554.70,233.80" fill="rgba(30,180,255,0.5)" stroke="#0a90ff" stroke-width="1.6" stroke-linejoin="round"/>
<polygon points="559.00,258.20 564.00,267.80 554.00,267.80" fill="rgba(30,180,255,0.5)" stroke="#0a90ff" stroke-width="1.6" stroke-linejoin="round"/>
<polygon points="561.00,261.20 566.00,270.80 556.00,270.80" fill="rgba(30,180,255,0.5)" stroke="#0a90ff" stroke-width="1.6" stroke-linejoin="round"/>
<polygon points="558.00,263.20 563.00,272.80 553.00,272.80" fill="rgba(30,180,255,0.5)" stroke="#0a90ff" stroke-width="1.6" stroke-linejoin="round"/>
<line x1="559.6600000000001" y1="209.4" x2="559.6600000000001" y2="259" stroke="#0a90ff" stroke-width="1.6"/>
<line x1="555.3600000000001" y1="209.4" x2="563.96" y2="209.4" stroke="#0a90ff" stroke-width="1.6"/>
<line x1="555.3600000000001" y1="259" x2="563.96" y2="259" stroke="#0a90ff" stroke-width="1.6"/>
<rect x="575.89" y="243.00" width="14.0" height="172.00" fill="#ffc47f" stroke="#ff6a00" stroke-width="1.6"/>
<polygon points="577.50,206.80 587.50,206.80 582.50,216.40" fill="rgba(255,140,0,0.5)" stroke="#ff5f00" stroke-width="1.6" stroke-linejoin="round"/>
<polygon points="577.00,222.20 587.00,222.20 582.00,231.80" fill="rgba(255,140,0,0.5)" stroke="#ff5f00" stroke-width="1.6" stroke-linejoin="round"/>
<polygon points="575.00,228.00 585.00,228.00 580.00,237.60" fill="rgba(255,140,0,0.5)" stroke="#ff5f00" stroke-width="1.6" stroke-linejoin="round"/>
<polygon points="580.00,231.60 590.00,231.60 585.00,241.20" fill="rgba(255,140,0,0.5)" stroke="#ff5f00" stroke-width="1.6" stroke-linejoin="round"/>
<polygon points="582.00,235.20 592.00,235.20 587.00,244.80" fill="rgba(255,140,0,0.5)" stroke="#ff5f00" stroke-width="1.6" stroke-linejoin="round"/>
<polygon points="575.00,238.20 585.00,238.20 580.00,247.80" fill="rgba(255,140,0,0.5)" stroke="#ff5f00" stroke-width="1.6" stroke-linejoin="round"/>
<polygon points="580.00,244.00 590.00,244.00 585.00,253.60" fill="rgba(255,140,0,0.5)" stroke="#ff5f00" stroke-width="1.6" stroke-linejoin="round"/>
<polygon points="578.00,251.20 588.00,251.20 583.00,260.80" fill="rgba(255,140,0,0.5)" stroke="#ff5f00" stroke-width="1.6" stroke-linejoin="round"/>
<polygon points="578.00,265.90 588.00,265.90 583.00,275.50" fill="rgba(255,140,0,0.5)" stroke="#ff5f00" stroke-width="1.6" stroke-linejoin="round"/>
<rect x="599.12" y="277.00" width="14.0" height="138.00" fill="#ff96c8" stroke="#ff3399" stroke-width="1.6"/>
<polygon points="601.20,238.70 611.20,238.70 606.20,248.30" fill="rgba(255,45,145,0.5)" stroke="#ff3399" stroke-width="1.6" stroke-linejoin="round"/>
<polygon points="596.80,243.90 606.80,243.90 601.80,253.50" fill="rgba(255,45,145,0.5)" stroke="#ff3399" stroke-width="1.6" stroke-linejoin="round"/>
<polygon points="604.40,247.40 614.40,247.40 609.40,257.00" fill="rgba(255,45,145,0.5)" stroke="#ff3399" stroke-width="1.6" stroke-linejoin="round"/>
<polygon points="598.20,257.80 608.20,257.80 603.20,267.40" fill="rgba(255,45,145,0.5)" stroke="#ff3399" stroke-width="1.6" stroke-linejoin="round"/>
<polygon points="604.40,264.00 614.40,264.00 609.40,273.60" fill="rgba(255,45,145,0.5)" stroke="#ff3399" stroke-width="1.6" stroke-linejoin="round"/>
<polygon points="601.00,269.60 611.00,269.60 606.00,279.20" fill="rgba(255,45,145,0.5)" stroke="#ff3399" stroke-width="1.6" stroke-linejoin="round"/>
<polygon points="601.00,297.20 611.00,297.20 606.00,306.80" fill="rgba(255,45,145,0.5)" stroke="#ff3399" stroke-width="1.6" stroke-linejoin="round"/>
<polygon points="598.00,303.20 608.00,303.20 603.00,312.80" fill="rgba(255,45,145,0.5)" stroke="#ff3399" stroke-width="1.6" stroke-linejoin="round"/>
<polygon points="604.00,303.70 614.00,303.70 609.00,313.30" fill="rgba(255,45,145,0.5)" stroke="#ff3399" stroke-width="1.6" stroke-linejoin="round"/>
<line x1="606.12" y1="249.6" x2="606.12" y2="306" stroke="#ff3399" stroke-width="1.6"/>
<line x1="601.82" y1="249.6" x2="610.42" y2="249.6" stroke="#ff3399" stroke-width="1.6"/>
<line x1="601.82" y1="306" x2="610.42" y2="306" stroke="#ff3399" stroke-width="1.6"/>
<rect x="622.35" y="266.30" width="14.0" height="148.70" fill="#80bf88" stroke="#008a22" stroke-width="1.6"/>
<polygon points="626.50,228.10 631.40,233.00 626.50,237.90 621.60,233.00" fill="rgba(0,128,30,0.5)" stroke="#168f52" stroke-width="1.6" stroke-linejoin="round"/>
<polygon points="629.00,235.10 633.90,240.00 629.00,244.90 624.10,240.00" fill="rgba(0,128,30,0.5)" stroke="#168f52" stroke-width="1.6" stroke-linejoin="round"/>
<polygon points="626.00,248.10 630.90,253.00 626.00,257.90 621.10,253.00" fill="rgba(0,128,30,0.5)" stroke="#168f52" stroke-width="1.6" stroke-linejoin="round"/>
<polygon points="632.00,256.10 636.90,261.00 632.00,265.90 627.10,261.00" fill="rgba(0,128,30,0.5)" stroke="#168f52" stroke-width="1.6" stroke-linejoin="round"/>
<polygon points="627.00,267.90 631.90,272.80 627.00,277.70 622.10,272.80" fill="rgba(0,128,30,0.5)" stroke="#168f52" stroke-width="1.6" stroke-linejoin="round"/>
<polygon points="633.00,269.70 637.90,274.60 633.00,279.50 628.10,274.60" fill="rgba(0,128,30,0.5)" stroke="#168f52" stroke-width="1.6" stroke-linejoin="round"/>
<polygon points="630.00,284.50 634.90,289.40 630.00,294.30 625.10,289.40" fill="rgba(0,128,30,0.5)" stroke="#168f52" stroke-width="1.6" stroke-linejoin="round"/>
<polygon points="627.00,292.90 631.90,297.80 627.00,302.70 622.10,297.80" fill="rgba(0,128,30,0.5)" stroke="#168f52" stroke-width="1.6" stroke-linejoin="round"/>
<line x1="629.35" y1="244.4" x2="629.35" y2="287" stroke="#168f52" stroke-width="1.6"/>
<line x1="625.0500000000001" y1="244.4" x2="633.65" y2="244.4" stroke="#168f52" stroke-width="1.6"/>
<line x1="625.0500000000001" y1="287" x2="633.65" y2="287" stroke="#168f52" stroke-width="1.6"/>
<rect x="645.58" y="269.00" width="14.0" height="146.00" fill="#a0dba6" stroke="#3cb44b" stroke-width="1.6"/>
<polygon points="644.00,244.00 646.40,240.00 651.60,240.00 654.00,244.00 651.60,248.00 646.40,248.00" fill="rgba(60,180,75,0.5)" stroke="#3cb44b" stroke-width="1.6" stroke-linejoin="round"/>
<polygon points="650.00,241.30 652.40,237.30 657.60,237.30 660.00,241.30 657.60,245.30 652.40,245.30" fill="rgba(60,180,75,0.5)" stroke="#3cb44b" stroke-width="1.6" stroke-linejoin="round"/>
<polygon points="648.00,240.40 650.40,236.40 655.60,236.40 658.00,240.40 655.60,244.40 650.40,244.40" fill="rgba(60,180,75,0.5)" stroke="#3cb44b" stroke-width="1.6" stroke-linejoin="round"/>
<polygon points="650.00,261.70 652.40,257.70 657.60,257.70 660.00,261.70 657.60,265.70 652.40,265.70" fill="rgba(60,180,75,0.5)" stroke="#3cb44b" stroke-width="1.6" stroke-linejoin="round"/>
<polygon points="647.00,270.00 649.40,266.00 654.60,266.00 657.00,270.00 654.60,274.00 649.40,274.00" fill="rgba(60,180,75,0.5)" stroke="#3cb44b" stroke-width="1.6" stroke-linejoin="round"/>
<polygon points="647.00,278.30 649.40,274.30 654.60,274.30 657.00,278.30 654.60,282.30 649.40,282.30" fill="rgba(60,180,75,0.5)" stroke="#3cb44b" stroke-width="1.6" stroke-linejoin="round"/>
<polygon points="646.00,287.60 648.40,283.60 653.60,283.60 656.00,287.60 653.60,291.60 648.40,291.60" fill="rgba(60,180,75,0.5)" stroke="#3cb44b" stroke-width="1.6" stroke-linejoin="round"/>
<polygon points="651.00,293.00 653.40,289.00 658.60,289.00 661.00,293.00 658.60,297.00 653.40,297.00" fill="rgba(60,180,75,0.5)" stroke="#3cb44b" stroke-width="1.6" stroke-linejoin="round"/>
<polygon points="643.00,297.80 645.40,293.80 650.60,293.80 653.00,297.80 650.60,301.80 645.40,301.80" fill="rgba(60,180,75,0.5)" stroke="#3cb44b" stroke-width="1.6" stroke-linejoin="round"/>
<line x1="652.58" y1="247.8" x2="652.58" y2="290" stroke="#3cb44b" stroke-width="1.6"/>
<line x1="648.2800000000001" y1="247.8" x2="656.88" y2="247.8" stroke="#3cb44b" stroke-width="1.6"/>
<line x1="648.2800000000001" y1="290" x2="656.88" y2="290" stroke="#3cb44b" stroke-width="1.6"/>
<rect x="668.81" y="257.00" width="14.0" height="158.00" fill="#c89bff" stroke="#8a3fe0" stroke-width="1.6"/>
<polygon points="675.70,183.20 680.60,188.10 675.70,193.00 670.80,188.10" fill="rgba(140,50,255,0.5)" stroke="#7b2fd9" stroke-width="1.6" stroke-linejoin="round"/>
<polygon points="677.00,198.40 681.90,203.30 677.00,208.20 672.10,203.30" fill="rgba(140,50,255,0.5)" stroke="#7b2fd9" stroke-width="1.6" stroke-linejoin="round"/>
<polygon points="675.00,201.20 679.90,206.10 675.00,211.00 670.10,206.10" fill="rgba(140,50,255,0.5)" stroke="#7b2fd9" stroke-width="1.6" stroke-linejoin="round"/>
<polygon points="677.00,266.60 681.90,271.50 677.00,276.40 672.10,271.50" fill="rgba(140,50,255,0.5)" stroke="#7b2fd9" stroke-width="1.6" stroke-linejoin="round"/>
<polygon points="676.00,274.40 680.90,279.30 676.00,284.20 671.10,279.30" fill="rgba(140,50,255,0.5)" stroke="#7b2fd9" stroke-width="1.6" stroke-linejoin="round"/>
<polygon points="675.00,324.40 679.90,329.30 675.00,334.20 670.10,329.30" fill="rgba(140,50,255,0.5)" stroke="#7b2fd9" stroke-width="1.6" stroke-linejoin="round"/>
<polygon points="673.00,272.10 677.90,277.00 673.00,281.90 668.10,277.00" fill="rgba(140,50,255,0.5)" stroke="#7b2fd9" stroke-width="1.6" stroke-linejoin="round"/>
<line x1="675.8100000000001" y1="209.4" x2="675.8100000000001" y2="302.8" stroke="#7b2fd9" stroke-width="1.6"/>
<line x1="671.5100000000001" y1="209.4" x2="680.11" y2="209.4" stroke="#7b2fd9" stroke-width="1.6"/>
<line x1="671.5100000000001" y1="302.8" x2="680.11" y2="302.8" stroke="#7b2fd9" stroke-width="1.6"/>
<rect x="102.90" y="706.00" width="15.4" height="170.60" fill="#bebebe"/>
<circle cx="110.50" cy="679.50" r="4.90" fill="rgba(0,0,0,0.5)" stroke="#000000" stroke-width="1.6"/>
<circle cx="110.50" cy="683.40" r="4.90" fill="rgba(0,0,0,0.5)" stroke="#000000" stroke-width="1.6"/>
<circle cx="110.50" cy="695.00" r="4.90" fill="#000" stroke="#000000" stroke-width="1.6"/>
<circle cx="108.00" cy="700.00" r="4.90" fill="#000" stroke="#000000" stroke-width="1.6"/>
<circle cx="113.00" cy="700.00" r="4.90" fill="#000" stroke="#000000" stroke-width="1.6"/>
<circle cx="107.00" cy="706.00" r="4.90" fill="#000" stroke="#000000" stroke-width="1.6"/>
<circle cx="114.00" cy="706.00" r="4.90" fill="#000" stroke="#000000" stroke-width="1.6"/>
<circle cx="110.50" cy="704.00" r="4.90" fill="#000" stroke="#000000" stroke-width="1.6"/>
<circle cx="109.00" cy="712.00" r="4.90" fill="#000" stroke="#000000" stroke-width="1.6"/>
<circle cx="112.00" cy="712.00" r="4.90" fill="#000" stroke="#000000" stroke-width="1.6"/>
<circle cx="110.50" cy="718.00" r="4.90" fill="#000" stroke="#000000" stroke-width="1.6"/>
<circle cx="110.50" cy="722.00" r="4.90" fill="#000" stroke="#000000" stroke-width="1.6"/>
<circle cx="110.50" cy="731.00" r="4.90" fill="rgba(0,0,0,0.5)" stroke="#000000" stroke-width="1.6"/>
<rect x="126.13" y="844.50" width="15.4" height="32.10" fill="#bebebe"/>
<rect x="127.15" y="828.55" width="7.90" height="7.90" rx="0.8" fill="none" stroke="#000000" stroke-width="1.6"/>
<rect x="129.65" y="827.05" width="7.90" height="7.90" rx="0.8" fill="none" stroke="#000000" stroke-width="1.6"/>
<rect x="132.55" y="831.75" width="7.90" height="7.90" rx="0.8" fill="none" stroke="#000000" stroke-width="1.6"/>
<rect x="129.45" y="840.75" width="7.90" height="7.90" rx="0.8" fill="none" stroke="#000000" stroke-width="1.6"/>
<rect x="131.05" y="843.85" width="7.90" height="7.90" rx="0.8" fill="none" stroke="#000000" stroke-width="1.6"/>
<rect x="127.15" y="857.65" width="7.90" height="7.90" rx="0.8" fill="none" stroke="#000000" stroke-width="1.6"/>
<rect x="131.05" y="855.85" width="7.90" height="7.90" rx="0.8" fill="none" stroke="#000000" stroke-width="1.6"/>
<rect x="129.05" y="854.05" width="7.90" height="7.90" rx="0.8" fill="none" stroke="#000000" stroke-width="1.6"/>
<line x1="133.82999999999998" y1="838" x2="133.82999999999998" y2="855" stroke="#000000" stroke-width="1.6"/>
<line x1="129.52999999999997" y1="838" x2="138.13" y2="838" stroke="#000000" stroke-width="1.6"/>
<line x1="129.52999999999997" y1="855" x2="138.13" y2="855" stroke="#000000" stroke-width="1.6"/>
<rect x="149.36" y="730.00" width="15.4" height="146.60" fill="#bebebe"/>
<polygon points="154.30,690.00 159.30,699.60 149.30,699.60" fill="rgba(30,180,255,0.5)" stroke="#0a90ff" stroke-width="1.6" stroke-linejoin="round"/>
<polygon points="157.50,694.20 162.50,703.80 152.50,703.80" fill="rgba(30,180,255,0.5)" stroke="#0a90ff" stroke-width="1.6" stroke-linejoin="round"/>
<polygon points="154.50,701.70 159.50,711.30 149.50,711.30" fill="rgba(30,180,255,0.5)" stroke="#0a90ff" stroke-width="1.6" stroke-linejoin="round"/>
<polygon points="159.50,701.70 164.50,711.30 154.50,711.30" fill="rgba(30,180,255,0.5)" stroke="#0a90ff" stroke-width="1.6" stroke-linejoin="round"/>
<polygon points="157.00,732.40 162.00,742.00 152.00,742.00" fill="rgba(30,180,255,0.5)" stroke="#0a90ff" stroke-width="1.6" stroke-linejoin="round"/>
<polygon points="154.00,743.70 159.00,753.30 149.00,753.30" fill="rgba(30,180,255,0.5)" stroke="#0a90ff" stroke-width="1.6" stroke-linejoin="round"/>
<polygon points="160.30,743.70 165.30,753.30 155.30,753.30" fill="rgba(30,180,255,0.5)" stroke="#0a90ff" stroke-width="1.6" stroke-linejoin="round"/>
<polygon points="157.00,752.30 162.00,761.90 152.00,761.90" fill="rgba(30,180,255,0.5)" stroke="#0a90ff" stroke-width="1.6" stroke-linejoin="round"/>
<polygon points="157.00,768.50 162.00,778.10 152.00,778.10" fill="rgba(30,180,255,0.5)" stroke="#0a90ff" stroke-width="1.6" stroke-linejoin="round"/>
<line x1="157.06" y1="706" x2="157.06" y2="750" stroke="#0a90ff" stroke-width="1.6"/>
<line x1="152.76" y1="706" x2="161.36" y2="706" stroke="#0a90ff" stroke-width="1.6"/>
<line x1="152.76" y1="750" x2="161.36" y2="750" stroke="#0a90ff" stroke-width="1.6"/>
<rect x="172.59" y="630.50" width="15.4" height="246.10" fill="#bebebe"/>
<polygon points="174.00,553.90 184.00,553.90 179.00,563.50" fill="rgba(255,140,0,0.5)" stroke="#ff5f00" stroke-width="1.6" stroke-linejoin="round"/>
<polygon points="177.00,553.90 187.00,553.90 182.00,563.50" fill="rgba(255,140,0,0.5)" stroke="#ff5f00" stroke-width="1.6" stroke-linejoin="round"/>
<polygon points="175.00,621.20 185.00,621.20 180.00,630.80" fill="rgba(255,140,0,0.5)" stroke="#ff5f00" stroke-width="1.6" stroke-linejoin="round"/>
<polygon points="173.00,628.20 183.00,628.20 178.00,637.80" fill="rgba(255,140,0,0.5)" stroke="#ff5f00" stroke-width="1.6" stroke-linejoin="round"/>
<polygon points="177.00,630.20 187.00,630.20 182.00,639.80" fill="rgba(255,140,0,0.5)" stroke="#ff5f00" stroke-width="1.6" stroke-linejoin="round"/>
<polygon points="175.00,631.20 185.00,631.20 180.00,640.80" fill="rgba(255,140,0,0.5)" stroke="#ff5f00" stroke-width="1.6" stroke-linejoin="round"/>
<polygon points="175.40,660.70 185.40,660.70 180.40,670.30" fill="rgba(255,140,0,0.5)" stroke="#ff5f00" stroke-width="1.6" stroke-linejoin="round"/>
<polygon points="175.40,711.80 185.40,711.80 180.40,721.40" fill="rgba(255,140,0,0.5)" stroke="#ff5f00" stroke-width="1.6" stroke-linejoin="round"/>
<line x1="180.29" y1="580" x2="180.29" y2="677.8" stroke="#ff5f00" stroke-width="1.6"/>
<line x1="175.98999999999998" y1="580" x2="184.59" y2="580" stroke="#ff5f00" stroke-width="1.6"/>
<line x1="175.98999999999998" y1="677.8" x2="184.59" y2="677.8" stroke="#ff5f00" stroke-width="1.6"/>
<rect x="195.82" y="747.60" width="15.4" height="129.00" fill="#bebebe"/>
<polygon points="198.70,724.00 208.70,724.00 203.70,733.60" fill="rgba(255,45,145,0.5)" stroke="#ff3399" stroke-width="1.6" stroke-linejoin="round"/>
<polygon points="195.50,736.20 205.50,736.20 200.50,745.80" fill="rgba(255,45,145,0.5)" stroke="#ff3399" stroke-width="1.6" stroke-linejoin="round"/>
<polygon points="202.00,736.20 212.00,736.20 207.00,745.80" fill="rgba(255,45,145,0.5)" stroke="#ff3399" stroke-width="1.6" stroke-linejoin="round"/>
<polygon points="198.70,738.20 208.70,738.20 203.70,747.80" fill="rgba(255,45,145,0.5)" stroke="#ff3399" stroke-width="1.6" stroke-linejoin="round"/>
<polygon points="198.70,752.40 208.70,752.40 203.70,762.00" fill="rgba(255,45,145,0.5)" stroke="#ff3399" stroke-width="1.6" stroke-linejoin="round"/>
<polygon points="198.70,759.70 208.70,759.70 203.70,769.30" fill="rgba(255,45,145,0.5)" stroke="#ff3399" stroke-width="1.6" stroke-linejoin="round"/>
<polygon points="198.70,765.70 208.70,765.70 203.70,775.30" fill="rgba(255,45,145,0.5)" stroke="#ff3399" stroke-width="1.6" stroke-linejoin="round"/>
<line x1="203.51999999999998" y1="745" x2="203.51999999999998" y2="760" stroke="#ff3399" stroke-width="1.6"/>
<line x1="199.21999999999997" y1="745" x2="207.82" y2="745" stroke="#ff3399" stroke-width="1.6"/>
<line x1="199.21999999999997" y1="760" x2="207.82" y2="760" stroke="#ff3399" stroke-width="1.6"/>
<rect x="219.05" y="808.90" width="15.4" height="67.70" fill="#bebebe"/>
<polygon points="226.40,782.10 231.30,787.00 226.40,791.90 221.50,787.00" fill="rgba(0,128,30,0.5)" stroke="#168f52" stroke-width="1.6" stroke-linejoin="round"/>
<polygon points="226.40,787.90 231.30,792.80 226.40,797.70 221.50,792.80" fill="rgba(0,128,30,0.5)" stroke="#168f52" stroke-width="1.6" stroke-linejoin="round"/>
<polygon points="226.40,795.10 231.30,800.00 226.40,804.90 221.50,800.00" fill="rgba(0,128,30,0.5)" stroke="#168f52" stroke-width="1.6" stroke-linejoin="round"/>
<polygon points="226.40,809.80 231.30,814.70 226.40,819.60 221.50,814.70" fill="rgba(0,128,30,0.5)" stroke="#168f52" stroke-width="1.6" stroke-linejoin="round"/>
<polygon points="227.80,815.70 232.70,820.60 227.80,825.50 222.90,820.60" fill="rgba(0,128,30,0.5)" stroke="#168f52" stroke-width="1.6" stroke-linejoin="round"/>
<polygon points="223.50,823.00 228.40,827.90 223.50,832.80 218.60,827.90" fill="rgba(0,128,30,0.5)" stroke="#168f52" stroke-width="1.6" stroke-linejoin="round"/>
<line x1="226.75" y1="793" x2="226.75" y2="822" stroke="#168f52" stroke-width="1.6"/>
<line x1="222.45" y1="793" x2="231.05" y2="793" stroke="#168f52" stroke-width="1.6"/>
<line x1="222.45" y1="822" x2="231.05" y2="822" stroke="#168f52" stroke-width="1.6"/>
<rect x="242.28" y="807.40" width="15.4" height="69.20" fill="#bebebe"/>
<polygon points="245.00,782.60 247.40,778.60 252.60,778.60 255.00,782.60 252.60,786.60 247.40,786.60" fill="rgba(60,180,75,0.5)" stroke="#3cb44b" stroke-width="1.6" stroke-linejoin="round"/>
<polygon points="243.00,788.50 245.40,784.50 250.60,784.50 253.00,788.50 250.60,792.50 245.40,792.50" fill="rgba(60,180,75,0.5)" stroke="#3cb44b" stroke-width="1.6" stroke-linejoin="round"/>
<polygon points="247.00,792.80 249.40,788.80 254.60,788.80 257.00,792.80 254.60,796.80 249.40,796.80" fill="rgba(60,180,75,0.5)" stroke="#3cb44b" stroke-width="1.6" stroke-linejoin="round"/>
<polygon points="246.00,800.00 248.40,796.00 253.60,796.00 256.00,800.00 253.60,804.00 248.40,804.00" fill="rgba(60,180,75,0.5)" stroke="#3cb44b" stroke-width="1.6" stroke-linejoin="round"/>
<polygon points="245.00,806.00 247.40,802.00 252.60,802.00 255.00,806.00 252.60,810.00 247.40,810.00" fill="rgba(60,180,75,0.5)" stroke="#3cb44b" stroke-width="1.6" stroke-linejoin="round"/>
<polygon points="243.00,819.10 245.40,815.10 250.60,815.10 253.00,819.10 250.60,823.10 245.40,823.10" fill="rgba(60,180,75,0.5)" stroke="#3cb44b" stroke-width="1.6" stroke-linejoin="round"/>
<polygon points="248.00,820.60 250.40,816.60 255.60,816.60 258.00,820.60 255.60,824.60 250.40,824.60" fill="rgba(60,180,75,0.5)" stroke="#3cb44b" stroke-width="1.6" stroke-linejoin="round"/>
<polygon points="245.00,830.80 247.40,826.80 252.60,826.80 255.00,830.80 252.60,834.80 247.40,834.80" fill="rgba(60,180,75,0.5)" stroke="#3cb44b" stroke-width="1.6" stroke-linejoin="round"/>
<rect x="265.51" y="692.70" width="15.4" height="183.90" fill="#bebebe"/>
<polygon points="273.30,654.80 278.20,659.70 273.30,664.60 268.40,659.70" fill="rgba(140,50,255,0.5)" stroke="#7b2fd9" stroke-width="1.6" stroke-linejoin="round"/>
<polygon points="273.30,666.80 278.20,671.70 273.30,676.60 268.40,671.70" fill="rgba(140,50,255,0.5)" stroke="#7b2fd9" stroke-width="1.6" stroke-linejoin="round"/>
<polygon points="271.00,674.10 275.90,679.00 271.00,683.90 266.10,679.00" fill="rgba(140,50,255,0.5)" stroke="#7b2fd9" stroke-width="1.6" stroke-linejoin="round"/>
<polygon points="276.00,674.10 280.90,679.00 276.00,683.90 271.10,679.00" fill="rgba(140,50,255,0.5)" stroke="#7b2fd9" stroke-width="1.6" stroke-linejoin="round"/>
<polygon points="273.30,674.10 278.20,679.00 273.30,683.90 268.40,679.00" fill="rgba(140,50,255,0.5)" stroke="#7b2fd9" stroke-width="1.6" stroke-linejoin="round"/>
<polygon points="273.30,687.10 278.20,692.00 273.30,696.90 268.40,692.00" fill="rgba(140,50,255,0.5)" stroke="#7b2fd9" stroke-width="1.6" stroke-linejoin="round"/>
<polygon points="273.30,714.60 278.20,719.50 273.30,724.40 268.40,719.50" fill="rgba(140,50,255,0.5)" stroke="#7b2fd9" stroke-width="1.6" stroke-linejoin="round"/>
<polygon points="273.30,715.60 278.20,720.50 273.30,725.40 268.40,720.50" fill="rgba(140,50,255,0.5)" stroke="#7b2fd9" stroke-width="1.6" stroke-linejoin="round"/>
<polygon points="273.30,726.60 278.20,731.50 273.30,736.40 268.40,731.50" fill="rgba(140,50,255,0.5)" stroke="#7b2fd9" stroke-width="1.6" stroke-linejoin="round"/>
<line x1="273.21000000000004" y1="667" x2="273.21000000000004" y2="719" stroke="#7b2fd9" stroke-width="1.6"/>
<line x1="268.91" y1="667" x2="277.51000000000005" y2="667" stroke="#7b2fd9" stroke-width="1.6"/>
<line x1="268.91" y1="719" x2="277.51000000000005" y2="719" stroke="#7b2fd9" stroke-width="1.6"/>
<rect x="304.20" y="706.00" width="15.4" height="170.60" fill="#bebebe"/>
<circle cx="311.50" cy="674.50" r="4.90" fill="rgba(0,0,0,0.5)" stroke="#000000" stroke-width="1.6"/>
<circle cx="311.50" cy="689.00" r="4.90" fill="rgba(0,0,0,0.5)" stroke="#000000" stroke-width="1.6"/>
<circle cx="311.50" cy="695.50" r="4.90" fill="rgba(0,0,0,0.5)" stroke="#000000" stroke-width="1.6"/>
<circle cx="310.00" cy="700.00" r="4.90" fill="rgba(0,0,0,0.5)" stroke="#000000" stroke-width="1.6"/>
<circle cx="313.00" cy="700.00" r="4.90" fill="rgba(0,0,0,0.5)" stroke="#000000" stroke-width="1.6"/>
<circle cx="311.50" cy="714.50" r="4.90" fill="rgba(0,0,0,0.5)" stroke="#000000" stroke-width="1.6"/>
<circle cx="311.50" cy="721.80" r="4.90" fill="rgba(0,0,0,0.5)" stroke="#000000" stroke-width="1.6"/>
<circle cx="311.50" cy="732.00" r="4.90" fill="rgba(0,0,0,0.5)" stroke="#000000" stroke-width="1.6"/>
<circle cx="311.50" cy="743.70" r="4.90" fill="rgba(0,0,0,0.5)" stroke="#000000" stroke-width="1.6"/>
<rect x="327.43" y="875.00" width="15.4" height="1.60" fill="#bebebe"/>
<rect x="329.05" y="870.05" width="7.90" height="7.90" rx="0.8" fill="#000" stroke="#000000" stroke-width="1.6"/>
<rect x="333.55" y="870.05" width="7.90" height="7.90" rx="0.8" fill="#000" stroke="#000000" stroke-width="1.6"/>
<rect x="331.05" y="870.55" width="7.90" height="7.90" rx="0.8" fill="#000" stroke="#000000" stroke-width="1.6"/>
<rect x="350.66" y="875.00" width="15.4" height="1.60" fill="#bebebe"/>
<polygon points="356.50,862.70 361.50,872.30 351.50,872.30" fill="rgba(30,180,255,0.5)" stroke="#0a90ff" stroke-width="1.6" stroke-linejoin="round"/>
<polygon points="360.50,866.70 365.50,876.30 355.50,876.30" fill="rgba(30,180,255,0.5)" stroke="#0a90ff" stroke-width="1.6" stroke-linejoin="round"/>
<polygon points="358.50,869.20 363.50,878.80 353.50,878.80" fill="rgba(30,180,255,0.5)" stroke="#0a90ff" stroke-width="1.6" stroke-linejoin="round"/>
<rect x="373.89" y="858.00" width="15.4" height="18.60" fill="#bebebe"/>
<polygon points="373.50,841.70 383.50,841.70 378.50,851.30" fill="rgba(255,140,0,0.5)" stroke="#ff5f00" stroke-width="1.6" stroke-linejoin="round"/>
<polygon points="376.00,843.20 386.00,843.20 381.00,852.80" fill="rgba(255,140,0,0.5)" stroke="#ff5f00" stroke-width="1.6" stroke-linejoin="round"/>
<polygon points="372.50,865.70 382.50,865.70 377.50,875.30" fill="rgba(255,140,0,0.5)" stroke="#ff5f00" stroke-width="1.6" stroke-linejoin="round"/>
<polygon points="380.00,865.70 390.00,865.70 385.00,875.30" fill="rgba(255,140,0,0.5)" stroke="#ff5f00" stroke-width="1.6" stroke-linejoin="round"/>
<polygon points="376.00,866.70 386.00,866.70 381.00,876.30" fill="rgba(255,140,0,0.5)" stroke="#ff5f00" stroke-width="1.6" stroke-linejoin="round"/>
<line x1="381.59" y1="855" x2="381.59" y2="865" stroke="#ff5f00" stroke-width="1.6"/>
<line x1="377.28999999999996" y1="855" x2="385.89" y2="855" stroke="#ff5f00" stroke-width="1.6"/>
<line x1="377.28999999999996" y1="865" x2="385.89" y2="865" stroke="#ff5f00" stroke-width="1.6"/>
<rect x="397.12" y="875.00" width="15.4" height="1.60" fill="#bebebe"/>
<polygon points="397.00,867.20 407.00,867.20 402.00,876.80" fill="#ff3399" stroke="#ff3399" stroke-width="1.6" stroke-linejoin="round"/>
<polygon points="402.00,867.20 412.00,867.20 407.00,876.80" fill="#ff3399" stroke="#ff3399" stroke-width="1.6" stroke-linejoin="round"/>
<polygon points="399.50,869.20 409.50,869.20 404.50,878.80" fill="#ff3399" stroke="#ff3399" stroke-width="1.6" stroke-linejoin="round"/>
<rect x="420.35" y="875.00" width="15.4" height="1.60" fill="#bebebe"/>
<polygon points="426.00,861.60 430.90,866.50 426.00,871.40 421.10,866.50" fill="#168f52" stroke="#168f52" stroke-width="1.6" stroke-linejoin="round"/>
<polygon points="425.50,868.10 430.40,873.00 425.50,877.90 420.60,873.00" fill="#168f52" stroke="#168f52" stroke-width="1.6" stroke-linejoin="round"/>
<polygon points="430.50,869.10 435.40,874.00 430.50,878.90 425.60,874.00" fill="#168f52" stroke="#168f52" stroke-width="1.6" stroke-linejoin="round"/>
<polygon points="432.00,867.10 436.90,872.00 432.00,876.90 427.10,872.00" fill="#168f52" stroke="#168f52" stroke-width="1.6" stroke-linejoin="round"/>
<rect x="443.58" y="875.00" width="15.4" height="1.60" fill="#bebebe"/>
<polygon points="445.00,867.50 447.40,863.50 452.60,863.50 455.00,867.50 452.60,871.50 447.40,871.50" fill="#3cb44b" stroke="#3cb44b" stroke-width="1.6" stroke-linejoin="round"/>
<polygon points="444.00,874.00 446.40,870.00 451.60,870.00 454.00,874.00 451.60,878.00 446.40,878.00" fill="#3cb44b" stroke="#3cb44b" stroke-width="1.6" stroke-linejoin="round"/>
<polygon points="448.50,874.00 450.90,870.00 456.10,870.00 458.50,874.00 456.10,878.00 450.90,878.00" fill="#3cb44b" stroke="#3cb44b" stroke-width="1.6" stroke-linejoin="round"/>
<polygon points="446.00,875.50 448.40,871.50 453.60,871.50 456.00,875.50 453.60,879.50 448.40,879.50" fill="#3cb44b" stroke="#3cb44b" stroke-width="1.6" stroke-linejoin="round"/>
<rect x="466.81" y="773.20" width="15.4" height="103.40" fill="#bebebe"/>
<polygon points="473.00,745.50 477.90,750.40 473.00,755.30 468.10,750.40" fill="rgba(140,50,255,0.5)" stroke="#7b2fd9" stroke-width="1.6" stroke-linejoin="round"/>
<polygon points="476.00,745.50 480.90,750.40 476.00,755.30 471.10,750.40" fill="rgba(140,50,255,0.5)" stroke="#7b2fd9" stroke-width="1.6" stroke-linejoin="round"/>
<polygon points="474.50,768.90 479.40,773.80 474.50,778.70 469.60,773.80" fill="rgba(140,50,255,0.5)" stroke="#7b2fd9" stroke-width="1.6" stroke-linejoin="round"/>
<polygon points="472.00,773.30 476.90,778.20 472.00,783.10 467.10,778.20" fill="rgba(140,50,255,0.5)" stroke="#7b2fd9" stroke-width="1.6" stroke-linejoin="round"/>
<polygon points="477.00,773.30 481.90,778.20 477.00,783.10 472.10,778.20" fill="rgba(140,50,255,0.5)" stroke="#7b2fd9" stroke-width="1.6" stroke-linejoin="round"/>
<polygon points="474.50,779.10 479.40,784.00 474.50,788.90 469.60,784.00" fill="rgba(140,50,255,0.5)" stroke="#7b2fd9" stroke-width="1.6" stroke-linejoin="round"/>
<polygon points="474.50,795.10 479.40,800.00 474.50,804.90 469.60,800.00" fill="rgba(140,50,255,0.5)" stroke="#7b2fd9" stroke-width="1.6" stroke-linejoin="round"/>
<line x1="474.51" y1="752" x2="474.51" y2="789.9" stroke="#7b2fd9" stroke-width="1.6"/>
<line x1="470.21" y1="752" x2="478.81" y2="752" stroke="#7b2fd9" stroke-width="1.6"/>
<line x1="470.21" y1="789.9" x2="478.81" y2="789.9" stroke="#7b2fd9" stroke-width="1.6"/>
<rect x="505.50" y="706.00" width="15.4" height="170.60" fill="#bebebe"/>
<circle cx="513.00" cy="674.60" r="4.90" fill="rgba(0,0,0,0.5)" stroke="#000000" stroke-width="1.6"/>
<circle cx="513.00" cy="687.70" r="4.90" fill="rgba(0,0,0,0.5)" stroke="#000000" stroke-width="1.6"/>
<circle cx="510.00" cy="695.00" r="4.90" fill="rgba(0,0,0,0.5)" stroke="#000000" stroke-width="1.6"/>
<circle cx="517.00" cy="697.40" r="4.90" fill="rgba(0,0,0,0.5)" stroke="#000000" stroke-width="1.6"/>
<circle cx="512.00" cy="698.00" r="4.90" fill="rgba(0,0,0,0.5)" stroke="#000000" stroke-width="1.6"/>
<circle cx="510.00" cy="706.10" r="4.90" fill="rgba(0,0,0,0.5)" stroke="#000000" stroke-width="1.6"/>
<circle cx="515.00" cy="712.00" r="4.90" fill="rgba(0,0,0,0.5)" stroke="#000000" stroke-width="1.6"/>
<circle cx="513.00" cy="724.80" r="4.90" fill="rgba(0,0,0,0.5)" stroke="#000000" stroke-width="1.6"/>
<circle cx="513.00" cy="754.90" r="4.90" fill="rgba(0,0,0,0.5)" stroke="#000000" stroke-width="1.6"/>
<line x1="513.2" y1="682.8" x2="513.2" y2="729.3" stroke="#000000" stroke-width="1.6"/>
<line x1="508.90000000000003" y1="682.8" x2="517.5" y2="682.8" stroke="#000000" stroke-width="1.6"/>
<line x1="508.90000000000003" y1="729.3" x2="517.5" y2="729.3" stroke="#000000" stroke-width="1.6"/>
<rect x="528.73" y="657.00" width="15.4" height="219.60" fill="#bebebe"/>
<rect x="532.45" y="600.75" width="7.90" height="7.90" rx="0.8" fill="none" stroke="#000000" stroke-width="1.6"/>
<rect x="532.05" y="635.05" width="7.90" height="7.90" rx="0.8" fill="none" stroke="#000000" stroke-width="1.6"/>
<rect x="529.05" y="645.05" width="7.90" height="7.90" rx="0.8" fill="none" stroke="#000000" stroke-width="1.6"/>
<rect x="536.05" y="648.05" width="7.90" height="7.90" rx="0.8" fill="none" stroke="#000000" stroke-width="1.6"/>
<rect x="534.05" y="657.75" width="7.90" height="7.90" rx="0.8" fill="none" stroke="#000000" stroke-width="1.6"/>
<rect x="532.05" y="659.05" width="7.90" height="7.90" rx="0.8" fill="none" stroke="#000000" stroke-width="1.6"/>
<rect x="532.05" y="666.25" width="7.90" height="7.90" rx="0.8" fill="none" stroke="#000000" stroke-width="1.6"/>
<rect x="534.05" y="683.75" width="7.90" height="7.90" rx="0.8" fill="none" stroke="#000000" stroke-width="1.6"/>
<rect x="531.05" y="692.55" width="7.90" height="7.90" rx="0.8" fill="none" stroke="#000000" stroke-width="1.6"/>
<line x1="536.4300000000001" y1="631.6" x2="536.4300000000001" y2="687.7" stroke="#000000" stroke-width="1.6"/>
<line x1="532.1300000000001" y1="631.6" x2="540.73" y2="631.6" stroke="#000000" stroke-width="1.6"/>
<line x1="532.1300000000001" y1="687.7" x2="540.73" y2="687.7" stroke="#000000" stroke-width="1.6"/>
<rect x="551.96" y="665.80" width="15.4" height="210.80" fill="#bebebe"/>
<polygon points="557.00,624.80 562.00,634.40 552.00,634.40" fill="rgba(30,180,255,0.5)" stroke="#0a90ff" stroke-width="1.6" stroke-linejoin="round"/>
<polygon points="560.00,627.70 565.00,637.30 555.00,637.30" fill="rgba(30,180,255,0.5)" stroke="#0a90ff" stroke-width="1.6" stroke-linejoin="round"/>
<polygon points="558.00,647.20 563.00,656.80 553.00,656.80" fill="rgba(30,180,255,0.5)" stroke="#0a90ff" stroke-width="1.6" stroke-linejoin="round"/>
<polygon points="560.00,648.70 565.00,658.30 555.00,658.30" fill="rgba(30,180,255,0.5)" stroke="#0a90ff" stroke-width="1.6" stroke-linejoin="round"/>
<polygon points="558.00,659.80 563.00,669.40 553.00,669.40" fill="rgba(30,180,255,0.5)" stroke="#0a90ff" stroke-width="1.6" stroke-linejoin="round"/>
<polygon points="559.50,674.20 564.50,683.80 554.50,683.80" fill="rgba(30,180,255,0.5)" stroke="#0a90ff" stroke-width="1.6" stroke-linejoin="round"/>
<polygon points="559.50,700.50 564.50,710.10 554.50,710.10" fill="rgba(30,180,255,0.5)" stroke="#0a90ff" stroke-width="1.6" stroke-linejoin="round"/>
<polygon points="559.50,723.80 564.50,733.40 554.50,733.40" fill="rgba(30,180,255,0.5)" stroke="#0a90ff" stroke-width="1.6" stroke-linejoin="round"/>
<line x1="559.6600000000001" y1="632" x2="559.6600000000001" y2="698.8" stroke="#0a90ff" stroke-width="1.6"/>
<line x1="555.3600000000001" y1="632" x2="563.96" y2="632" stroke="#0a90ff" stroke-width="1.6"/>
<line x1="555.3600000000001" y1="698.8" x2="563.96" y2="698.8" stroke="#0a90ff" stroke-width="1.6"/>
<rect x="575.19" y="655.80" width="15.4" height="220.80" fill="#bebebe"/>
<polygon points="577.50,591.80 587.50,591.80 582.50,601.40" fill="rgba(255,140,0,0.5)" stroke="#ff5f00" stroke-width="1.6" stroke-linejoin="round"/>
<polygon points="575.00,610.20 585.00,610.20 580.00,619.80" fill="rgba(255,140,0,0.5)" stroke="#ff5f00" stroke-width="1.6" stroke-linejoin="round"/>
<polygon points="580.00,610.70 590.00,610.70 585.00,620.30" fill="rgba(255,140,0,0.5)" stroke="#ff5f00" stroke-width="1.6" stroke-linejoin="round"/>
<polygon points="577.50,668.60 587.50,668.60 582.50,678.20" fill="rgba(255,140,0,0.5)" stroke="#ff5f00" stroke-width="1.6" stroke-linejoin="round"/>
<polygon points="577.50,697.50 587.50,697.50 582.50,707.10" fill="rgba(255,140,0,0.5)" stroke="#ff5f00" stroke-width="1.6" stroke-linejoin="round"/>
<polygon points="577.50,720.00 587.50,720.00 582.50,729.60" fill="rgba(255,140,0,0.5)" stroke="#ff5f00" stroke-width="1.6" stroke-linejoin="round"/>
<line x1="582.8900000000001" y1="602.4" x2="582.8900000000001" y2="707.6" stroke="#ff5f00" stroke-width="1.6"/>
<line x1="578.5900000000001" y1="602.4" x2="587.19" y2="602.4" stroke="#ff5f00" stroke-width="1.6"/>
<line x1="578.5900000000001" y1="707.6" x2="587.19" y2="707.6" stroke="#ff5f00" stroke-width="1.6"/>
<rect x="598.42" y="677.40" width="15.4" height="199.20" fill="#bebebe"/>
<polygon points="600.50,620.10 610.50,620.10 605.50,629.70" fill="rgba(255,45,145,0.5)" stroke="#ff3399" stroke-width="1.6" stroke-linejoin="round"/>
<polygon points="604.00,631.20 614.00,631.20 609.00,640.80" fill="rgba(255,45,145,0.5)" stroke="#ff3399" stroke-width="1.6" stroke-linejoin="round"/>
<polygon points="598.00,636.40 608.00,636.40 603.00,646.00" fill="rgba(255,45,145,0.5)" stroke="#ff3399" stroke-width="1.6" stroke-linejoin="round"/>
<polygon points="604.00,645.80 614.00,645.80 609.00,655.40" fill="rgba(255,45,145,0.5)" stroke="#ff3399" stroke-width="1.6" stroke-linejoin="round"/>
<polygon points="598.00,647.20 608.00,647.20 603.00,656.80" fill="rgba(255,45,145,0.5)" stroke="#ff3399" stroke-width="1.6" stroke-linejoin="round"/>
<polygon points="601.00,673.50 611.00,673.50 606.00,683.10" fill="rgba(255,45,145,0.5)" stroke="#ff3399" stroke-width="1.6" stroke-linejoin="round"/>
<polygon points="601.00,687.90 611.00,687.90 606.00,697.50" fill="rgba(255,45,145,0.5)" stroke="#ff3399" stroke-width="1.6" stroke-linejoin="round"/>
<polygon points="601.00,708.30 611.00,708.30 606.00,717.90" fill="rgba(255,45,145,0.5)" stroke="#ff3399" stroke-width="1.6" stroke-linejoin="round"/>
<polygon points="601.00,791.00 611.00,791.00 606.00,800.60" fill="rgba(255,45,145,0.5)" stroke="#ff3399" stroke-width="1.6" stroke-linejoin="round"/>
<line x1="606.12" y1="626" x2="606.12" y2="730" stroke="#ff3399" stroke-width="1.6"/>
<line x1="601.82" y1="626" x2="610.42" y2="626" stroke="#ff3399" stroke-width="1.6"/>
<line x1="601.82" y1="730" x2="610.42" y2="730" stroke="#ff3399" stroke-width="1.6"/>
<rect x="621.65" y="663.50" width="15.4" height="213.10" fill="#bebebe"/>
<polygon points="629.00,587.30 633.90,592.20 629.00,597.10 624.10,592.20" fill="rgba(0,128,30,0.5)" stroke="#168f52" stroke-width="1.6" stroke-linejoin="round"/>
<polygon points="629.00,601.90 633.90,606.80 629.00,611.70 624.10,606.80" fill="rgba(0,128,30,0.5)" stroke="#168f52" stroke-width="1.6" stroke-linejoin="round"/>
<polygon points="629.00,636.90 633.90,641.80 629.00,646.70 624.10,641.80" fill="rgba(0,128,30,0.5)" stroke="#168f52" stroke-width="1.6" stroke-linejoin="round"/>
<polygon points="629.00,677.80 633.90,682.70 629.00,687.60 624.10,682.70" fill="rgba(0,128,30,0.5)" stroke="#168f52" stroke-width="1.6" stroke-linejoin="round"/>
<polygon points="629.00,689.60 633.90,694.50 629.00,699.40 624.10,694.50" fill="rgba(0,128,30,0.5)" stroke="#168f52" stroke-width="1.6" stroke-linejoin="round"/>
<polygon points="629.00,756.70 633.90,761.60 629.00,766.50 624.10,761.60" fill="rgba(0,128,30,0.5)" stroke="#168f52" stroke-width="1.6" stroke-linejoin="round"/>
<line x1="629.35" y1="601" x2="629.35" y2="726" stroke="#168f52" stroke-width="1.6"/>
<line x1="625.0500000000001" y1="601" x2="633.65" y2="601" stroke="#168f52" stroke-width="1.6"/>
<line x1="625.0500000000001" y1="726" x2="633.65" y2="726" stroke="#168f52" stroke-width="1.6"/>
<rect x="644.88" y="686.90" width="15.4" height="189.70" fill="#bebebe"/>
<polygon points="647.50,553.60 649.90,549.60 655.10,549.60 657.50,553.60 655.10,557.60 649.90,557.60" fill="rgba(60,180,75,0.5)" stroke="#3cb44b" stroke-width="1.6" stroke-linejoin="round"/>
<polygon points="647.50,598.90 649.90,594.90 655.10,594.90 657.50,598.90 655.10,602.90 649.90,602.90" fill="rgba(60,180,75,0.5)" stroke="#3cb44b" stroke-width="1.6" stroke-linejoin="round"/>
<polygon points="647.50,641.20 649.90,637.20 655.10,637.20 657.50,641.20 655.10,645.20 649.90,645.20" fill="rgba(60,180,75,0.5)" stroke="#3cb44b" stroke-width="1.6" stroke-linejoin="round"/>
<polygon points="647.50,675.40 649.90,671.40 655.10,671.40 657.50,675.40 655.10,679.40 649.90,679.40" fill="rgba(60,180,75,0.5)" stroke="#3cb44b" stroke-width="1.6" stroke-linejoin="round"/>
<polygon points="645.00,706.70 647.40,702.70 652.60,702.70 655.00,706.70 652.60,710.70 647.40,710.70" fill="rgba(60,180,75,0.5)" stroke="#3cb44b" stroke-width="1.6" stroke-linejoin="round"/>
<polygon points="649.00,709.00 651.40,705.00 656.60,705.00 659.00,709.00 656.60,713.00 651.40,713.00" fill="rgba(60,180,75,0.5)" stroke="#3cb44b" stroke-width="1.6" stroke-linejoin="round"/>
<polygon points="646.00,764.50 648.40,760.50 653.60,760.50 656.00,764.50 653.60,768.50 648.40,768.50" fill="rgba(60,180,75,0.5)" stroke="#3cb44b" stroke-width="1.6" stroke-linejoin="round"/>
<polygon points="650.00,765.10 652.40,761.10 657.60,761.10 660.00,765.10 657.60,769.10 652.40,769.10" fill="rgba(60,180,75,0.5)" stroke="#3cb44b" stroke-width="1.6" stroke-linejoin="round"/>
<polygon points="644.00,768.00 646.40,764.00 651.60,764.00 654.00,768.00 651.60,772.00 646.40,772.00" fill="rgba(60,180,75,0.5)" stroke="#3cb44b" stroke-width="1.6" stroke-linejoin="round"/>
<line x1="652.58" y1="609.7" x2="652.58" y2="766" stroke="#3cb44b" stroke-width="1.6"/>
<line x1="648.2800000000001" y1="609.7" x2="656.88" y2="609.7" stroke="#3cb44b" stroke-width="1.6"/>
<line x1="648.2800000000001" y1="766" x2="656.88" y2="766" stroke="#3cb44b" stroke-width="1.6"/>
<rect x="668.11" y="692.10" width="15.4" height="184.50" fill="#bebebe"/>
<polygon points="676.00,621.70 680.90,626.60 676.00,631.50 671.10,626.60" fill="rgba(140,50,255,0.5)" stroke="#7b2fd9" stroke-width="1.6" stroke-linejoin="round"/>
<polygon points="676.00,633.10 680.90,638.00 676.00,642.90 671.10,638.00" fill="rgba(140,50,255,0.5)" stroke="#7b2fd9" stroke-width="1.6" stroke-linejoin="round"/>
<polygon points="674.00,690.70 678.90,695.60 674.00,700.50 669.10,695.60" fill="rgba(140,50,255,0.5)" stroke="#7b2fd9" stroke-width="1.6" stroke-linejoin="round"/>
<polygon points="679.00,692.50 683.90,697.40 679.00,702.30 674.10,697.40" fill="rgba(140,50,255,0.5)" stroke="#7b2fd9" stroke-width="1.6" stroke-linejoin="round"/>
<polygon points="672.00,701.20 676.90,706.10 672.00,711.00 667.10,706.10" fill="rgba(140,50,255,0.5)" stroke="#7b2fd9" stroke-width="1.6" stroke-linejoin="round"/>
<polygon points="678.00,700.40 682.90,705.30 678.00,710.20 673.10,705.30" fill="rgba(140,50,255,0.5)" stroke="#7b2fd9" stroke-width="1.6" stroke-linejoin="round"/>
<polygon points="676.00,709.10 680.90,714.00 676.00,718.90 671.10,714.00" fill="rgba(140,50,255,0.5)" stroke="#7b2fd9" stroke-width="1.6" stroke-linejoin="round"/>
<polygon points="676.00,736.90 680.90,741.80 676.00,746.70 671.10,741.80" fill="rgba(140,50,255,0.5)" stroke="#7b2fd9" stroke-width="1.6" stroke-linejoin="round"/>
<line x1="675.8100000000001" y1="655.8" x2="675.8100000000001" y2="728.6" stroke="#7b2fd9" stroke-width="1.6"/>
<line x1="671.5100000000001" y1="655.8" x2="680.11" y2="655.8" stroke="#7b2fd9" stroke-width="1.6"/>
<line x1="671.5100000000001" y1="728.6" x2="680.11" y2="728.6" stroke="#7b2fd9" stroke-width="1.6"/>
<line x1="102" y1="431.3" x2="280" y2="431.3" stroke="#222" stroke-width="1.3"/>
<text x="168.3" y="456.6" font-size="17.3" text-anchor="start" font-weight="normal" font-style="normal" fill="#000" >ANDV</text>
<line x1="303.8" y1="431.3" x2="481.7" y2="431.3" stroke="#222" stroke-width="1.3"/>
<text x="372.6" y="456.6" font-size="17.3" text-anchor="start" font-weight="normal" font-style="normal" fill="#000" >SNV</text>
<line x1="505.5" y1="431.3" x2="683.4" y2="431.3" stroke="#222" stroke-width="1.3"/>
<text x="570.0" y="456.6" font-size="17.3" text-anchor="start" font-weight="normal" font-style="normal" fill="#000" >HTNV</text>
<line x1="102" y1="892.2" x2="280" y2="892.2" stroke="#222" stroke-width="1.3"/>
<text x="168.3" y="917.5" font-size="17.3" text-anchor="start" font-weight="normal" font-style="normal" fill="#000" >ANDV</text>
<line x1="303.8" y1="892.2" x2="481.7" y2="892.2" stroke="#222" stroke-width="1.3"/>
<text x="372.6" y="917.5" font-size="17.3" text-anchor="start" font-weight="normal" font-style="normal" fill="#000" >SNV</text>
<line x1="505.5" y1="892.2" x2="683.4" y2="892.2" stroke="#222" stroke-width="1.3"/>
<text x="570.0" y="917.5" font-size="17.3" text-anchor="start" font-weight="normal" font-style="normal" fill="#000" >HTNV</text>
<text x="39.5" y="456.6" font-size="17.6" text-anchor="start" font-weight="normal" font-style="normal" fill="#000" >rVSV:</text>
<text x="0" y="917.5" font-size="17.5" text-anchor="start" font-weight="normal" font-style="normal" fill="#000" >hantavirus:</text>
</svg></body></html>
